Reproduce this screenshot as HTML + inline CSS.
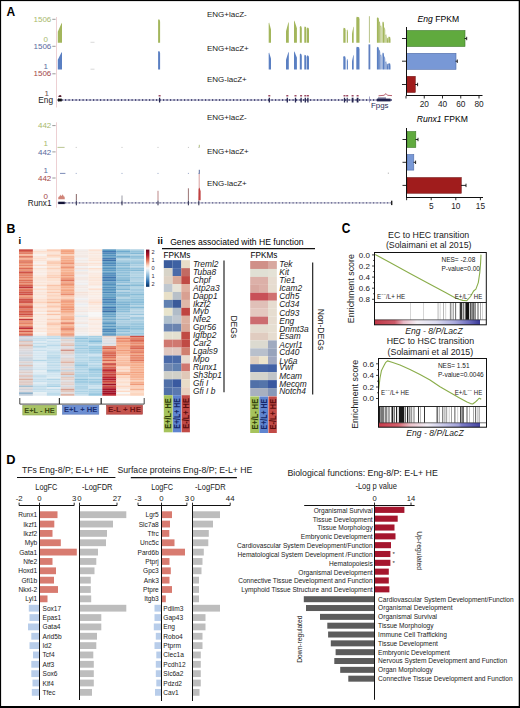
<!DOCTYPE html>
<html><head><meta charset="utf-8"><title>Figure</title>
<style>html,body{margin:0;padding:0;background:#fff;}body{width:520px;height:708px;overflow:hidden;}svg{display:block;}</style>
</head><body><svg width="520" height="708" viewBox="0 0 520 708" font-family='"Liberation Sans", sans-serif'>
<rect width="520" height="708" fill="#fff"/>
<text x="6.40" y="15.80" font-size="12" fill="#000" font-weight="bold">A</text>
<line x1="56.50" y1="17.00" x2="56.50" y2="107.50" stroke="#e8c4c8" stroke-width="0.8"/>
<line x1="56.50" y1="122.30" x2="56.50" y2="207.70" stroke="#e8c4c8" stroke-width="0.8"/>
<text x="51.30" y="21.60" font-size="8.0" fill="#a9b96d" text-anchor="end">1506</text>
<line x1="52.30" y1="19.30" x2="55.60" y2="19.30" stroke="#555" stroke-width="0.6"/>
<text x="48.00" y="41.60" font-size="8.0" fill="#a9b96d" text-anchor="end">0</text>
<text x="51.30" y="48.60" font-size="8.0" fill="#5a6a9e" text-anchor="end">1506</text>
<line x1="52.30" y1="46.30" x2="55.60" y2="46.30" stroke="#555" stroke-width="0.6"/>
<text x="48.00" y="68.60" font-size="8.0" fill="#5a6a9e" text-anchor="end">1</text>
<text x="51.30" y="76.00" font-size="8.0" fill="#a44848" text-anchor="end">1506</text>
<line x1="52.30" y1="73.80" x2="55.60" y2="73.80" stroke="#555" stroke-width="0.6"/>
<text x="48.90" y="95.90" font-size="8.0" fill="#6a4a4a" text-anchor="end">1</text>
<text x="53.10" y="103.20" font-size="8.3" fill="#222" text-anchor="end">Eng</text>
<text x="51.30" y="128.00" font-size="8.0" fill="#a9b96d" text-anchor="end">442</text>
<line x1="52.30" y1="125.60" x2="55.60" y2="125.60" stroke="#555" stroke-width="0.6"/>
<text x="48.00" y="146.20" font-size="8.0" fill="#a9b96d" text-anchor="end">1</text>
<text x="51.30" y="154.60" font-size="8.0" fill="#5a6a9e" text-anchor="end">442</text>
<line x1="52.30" y1="151.90" x2="55.60" y2="151.90" stroke="#555" stroke-width="0.6"/>
<text x="48.00" y="173.00" font-size="8.0" fill="#5a6a9e" text-anchor="end">1</text>
<text x="51.30" y="180.60" font-size="8.0" fill="#a44848" text-anchor="end">442</text>
<line x1="52.30" y1="178.00" x2="55.60" y2="178.00" stroke="#555" stroke-width="0.6"/>
<text x="48.00" y="199.20" font-size="8.0" fill="#a44848" text-anchor="end">0</text>
<text x="51.50" y="205.80" font-size="8.2" fill="#222" text-anchor="end">Runx1</text>
<text x="207.00" y="17.00" font-size="8.0" fill="#1a1a1a">ENG+lacZ-</text>
<text x="207.00" y="51.40" font-size="8.0" fill="#1a1a1a">ENG+lacZ+</text>
<text x="207.00" y="82.40" font-size="8.0" fill="#1a1a1a">ENG-lacZ+</text>
<text x="207.00" y="120.20" font-size="8.0" fill="#1a1a1a">ENG+lacZ-</text>
<text x="207.00" y="154.30" font-size="8.0" fill="#1a1a1a">ENG+lacZ+</text>
<text x="207.00" y="185.60" font-size="8.0" fill="#1a1a1a">ENG-lacZ+</text>
<polygon points="57.80,42.70 57.80,31.70 61.70,22.70 62.00,23.70 62.00,42.70" fill="#a3b65c"/>
<polygon points="158.10,42.70 158.10,20.40 158.50,19.20 159.70,19.80 160.10,21.70 160.10,42.70" fill="#a3b65c"/>
<polygon points="268.70,42.70 268.70,23.50 269.10,22.50 271.00,29.57 271.00,42.70" fill="#a3b65c"/>
<polygon points="286.00,42.70 286.00,31.26 288.50,21.90 288.80,22.90 288.80,42.70" fill="#a3b65c"/>
<polygon points="294.00,42.70 294.00,21.50 294.40,20.50 296.90,28.27 296.90,42.70" fill="#a3b65c"/>
<polygon points="299.80,42.70 299.80,27.20 300.20,26.00 301.40,26.60 301.80,28.50 301.80,42.70" fill="#a3b65c"/>
<polygon points="304.30,42.70 304.30,27.70 304.70,26.50 306.00,27.10 306.40,29.00 306.40,42.70" fill="#a3b65c"/>
<polygon points="306.90,42.70 306.90,28.70 307.30,27.50 308.60,28.10 309.00,30.00 309.00,42.70" fill="#a3b65c"/>
<polygon points="343.30,42.70 343.30,28.90 343.70,27.70 345.20,28.30 345.60,30.20 345.60,42.70" fill="#a3b65c"/>
<polygon points="346.80,42.70 346.80,30.60 347.20,29.40 347.50,30.00 347.90,31.90 347.90,42.70" fill="#a3b65c"/>
<polygon points="352.00,42.70 352.00,33.79 353.40,26.50 353.70,27.50 353.70,42.70" fill="#a3b65c"/>
<polygon points="356.30,42.70 356.30,17.90 356.70,16.70 359.10,17.30 359.50,19.20 359.50,42.70" fill="#a3b65c"/>
<polygon points="57.80,69.40 57.80,59.83 61.70,52.00 62.00,53.00 62.00,69.40" fill="#5a7fc2"/>
<polygon points="158.10,69.40 158.10,52.20 158.50,51.00 159.70,51.60 160.10,53.50 160.10,69.40" fill="#5a7fc2"/>
<polygon points="268.70,69.40 268.70,53.50 269.10,52.50 271.00,58.41 271.00,69.40" fill="#5a7fc2"/>
<polygon points="286.00,69.40 286.00,59.67 288.50,51.70 288.80,52.70 288.80,69.40" fill="#5a7fc2"/>
<polygon points="294.00,69.40 294.00,52.30 294.40,51.30 296.90,57.63 296.90,69.40" fill="#5a7fc2"/>
<polygon points="299.80,69.40 299.80,54.80 300.20,53.60 301.40,54.20 301.80,56.10 301.80,69.40" fill="#5a7fc2"/>
<polygon points="304.30,69.40 304.30,56.00 304.70,54.80 306.00,55.40 306.40,57.30 306.40,69.40" fill="#5a7fc2"/>
<polygon points="306.90,69.40 306.90,56.50 307.30,55.30 308.60,55.90 309.00,57.80 309.00,69.40" fill="#5a7fc2"/>
<polygon points="343.30,69.40 343.30,57.20 343.70,56.00 345.20,56.60 345.60,58.50 345.60,69.40" fill="#5a7fc2"/>
<polygon points="346.80,69.40 346.80,60.00 347.20,58.80 347.50,59.40 347.90,61.30 347.90,69.40" fill="#5a7fc2"/>
<polygon points="352.00,69.40 352.00,61.37 353.40,54.80 353.70,55.80 353.70,69.40" fill="#5a7fc2"/>
<polygon points="356.30,69.40 356.30,47.90 356.70,46.70 359.10,47.30 359.50,49.20 359.50,69.40" fill="#5a7fc2"/>
<rect x="368.90" y="16.20" width="1.00" height="26.50" fill="#b9c48a"/>
<rect x="368.50" y="44.40" width="1.80" height="25.00" fill="#6080c0"/>
<polygon points="376.90,42.70 376.90,18.50 377.40,17.30 378.60,18.10 378.90,20.30 378.90,42.70" fill="#a3b65c"/>
<polygon points="379.20,42.70 379.20,22.20 379.70,21.00 379.90,21.80 380.20,24.00 380.20,42.70" fill="#a3b65c"/>
<polygon points="380.50,42.70 380.50,26.20 381.00,25.00 381.20,25.80 381.50,28.00 381.50,42.70" fill="#a3b65c"/>
<polygon points="382.40,42.70 382.40,22.70 382.90,21.50 383.70,22.30 384.00,24.50 384.00,42.70" fill="#a3b65c"/>
<polygon points="384.30,42.70 384.30,28.20 384.80,27.00 384.90,27.80 385.20,30.00 385.20,42.70" fill="#a3b65c"/>
<polygon points="385.50,42.70 385.50,35.20 386.00,34.00 386.30,34.80 386.60,37.00 386.60,42.70" fill="#a3b65c"/>
<polygon points="386.90,42.70 386.90,38.70 387.40,37.50 387.70,38.30 388.00,40.50 388.00,42.70" fill="#a3b65c"/>
<polygon points="388.30,42.70 388.30,37.70 388.80,36.50 390.20,37.30 390.50,39.50 390.50,42.70" fill="#a3b65c"/>
<polygon points="376.90,69.40 376.90,47.90 377.40,46.70 378.60,47.50 378.90,49.70 378.90,69.40" fill="#5a7fc2"/>
<polygon points="379.20,69.40 379.20,50.70 379.70,49.50 379.90,50.30 380.20,52.50 380.20,69.40" fill="#5a7fc2"/>
<polygon points="380.50,69.40 380.50,55.20 381.00,54.00 381.20,54.80 381.50,57.00 381.50,69.40" fill="#5a7fc2"/>
<polygon points="382.40,69.40 382.40,53.70 382.90,52.50 383.70,53.30 384.00,55.50 384.00,69.40" fill="#5a7fc2"/>
<polygon points="384.30,69.40 384.30,57.20 384.80,56.00 384.90,56.80 385.20,59.00 385.20,69.40" fill="#5a7fc2"/>
<polygon points="385.50,69.40 385.50,62.20 386.00,61.00 386.30,61.80 386.60,64.00 386.60,69.40" fill="#5a7fc2"/>
<polygon points="386.90,69.40 386.90,64.70 387.40,63.50 387.70,64.30 388.00,66.50 388.00,69.40" fill="#5a7fc2"/>
<polygon points="388.30,69.40 388.30,64.20 388.80,63.00 390.20,63.80 390.50,66.00 390.50,69.40" fill="#5a7fc2"/>
<line x1="90.50" y1="42.30" x2="94.50" y2="42.30" stroke="#c8c8c8" stroke-width="0.7"/>
<line x1="90.50" y1="69.20" x2="94.50" y2="69.20" stroke="#c8c8c8" stroke-width="0.7"/>
<line x1="57.50" y1="100.00" x2="392.00" y2="100.00" stroke="#6a6a9a" stroke-width="0.8"/>
<line x1="58.00" y1="100.00" x2="392.00" y2="100.00" stroke="#2e2e62" stroke-width="1.4" stroke-dasharray="1.2,2.3"/>
<rect x="58.40" y="98.60" width="3.40" height="2.80" fill="#111"/>
<polygon points="57.30,100.00 58.80,98.00 58.80,102.00" fill="#111"/>
<rect x="158.95" y="97.70" width="1.30" height="4.80" fill="#25254f"/>
<rect x="158.60" y="95.00" width="2.00" height="1.50" fill="#9a4a62"/>
<rect x="268.65" y="97.70" width="1.30" height="4.80" fill="#25254f"/>
<rect x="268.30" y="95.00" width="2.00" height="1.50" fill="#9a4a62"/>
<rect x="286.65" y="97.70" width="1.30" height="4.80" fill="#25254f"/>
<rect x="286.30" y="95.00" width="2.00" height="1.50" fill="#9a4a62"/>
<rect x="294.85" y="97.70" width="1.30" height="4.80" fill="#25254f"/>
<rect x="294.50" y="95.00" width="2.00" height="1.50" fill="#9a4a62"/>
<rect x="300.45" y="97.70" width="1.30" height="4.80" fill="#25254f"/>
<rect x="300.10" y="95.00" width="2.00" height="1.50" fill="#9a4a62"/>
<rect x="304.65" y="97.70" width="1.30" height="4.80" fill="#25254f"/>
<rect x="304.30" y="95.00" width="2.00" height="1.50" fill="#9a4a62"/>
<rect x="307.25" y="97.70" width="1.30" height="4.80" fill="#25254f"/>
<rect x="306.90" y="95.00" width="2.00" height="1.50" fill="#9a4a62"/>
<rect x="343.85" y="97.70" width="1.30" height="4.80" fill="#25254f"/>
<rect x="343.50" y="95.00" width="2.00" height="1.50" fill="#9a4a62"/>
<rect x="346.65" y="97.70" width="1.10" height="4.80" fill="#25254f"/>
<rect x="346.20" y="95.00" width="2.00" height="1.50" fill="#9a4a62"/>
<rect x="351.70" y="97.70" width="1.80" height="4.80" fill="#25254f"/>
<rect x="351.60" y="95.00" width="2.00" height="1.50" fill="#9a4a62"/>
<rect x="356.70" y="97.70" width="1.80" height="4.80" fill="#25254f"/>
<rect x="356.60" y="95.00" width="2.00" height="1.50" fill="#9a4a62"/>
<line x1="369.50" y1="96.50" x2="369.50" y2="102.50" stroke="#8080b0" stroke-width="0.7"/>
<rect x="376.90" y="98.60" width="13.70" height="2.80" fill="#23234f"/>
<rect x="378.00" y="97.60" width="8.00" height="0.90" fill="#2a2a5a"/>
<path d="M378.5 95.8 L384 95.3 L386 93.6 L387.5 95.3 L392 95.6" fill="none" stroke="#b05060" stroke-width="0.9"/>
<polygon points="58.20,97.00 58.90,95.40 60.40,94.90 61.40,95.80 61.40,97.00" fill="#5a2030"/>
<text x="371.00" y="107.80" font-size="7.9" fill="#2a2a55">Fpgs</text>
<line x1="57.50" y1="202.90" x2="391.80" y2="202.90" stroke="#8a8aa8" stroke-width="0.7"/>
<line x1="65.00" y1="202.90" x2="391.80" y2="202.90" stroke="#5a5a88" stroke-width="1.2" stroke-dasharray="1.2,2.3"/>
<rect x="58.20" y="201.70" width="6.60" height="2.40" fill="#141438"/>
<rect x="391.00" y="200.70" width="1.40" height="4.40" fill="#222"/>
<rect x="75.80" y="200.50" width="1.10" height="4.80" fill="#3a3a5a"/>
<rect x="121.45" y="200.50" width="1.10" height="4.80" fill="#3a3a5a"/>
<rect x="157.45" y="200.50" width="1.10" height="4.80" fill="#3a3a5a"/>
<rect x="187.85" y="200.50" width="1.10" height="4.80" fill="#3a3a5a"/>
<rect x="198.25" y="200.50" width="1.10" height="4.80" fill="#3a3a5a"/>
<polygon points="58.20,199.20 58.40,197.00 59.60,196.20 60.30,194.40 61.00,196.00 62.00,195.50 62.80,194.30 63.60,196.20 64.60,196.80 64.80,199.20" fill="#d08478"/>
<line x1="76.35" y1="194.00" x2="76.35" y2="200.30" stroke="#7a5555" stroke-width="0.9"/>
<line x1="122.00" y1="195.50" x2="122.00" y2="200.30" stroke="#707080" stroke-width="0.7"/>
<line x1="158.00" y1="190.80" x2="158.00" y2="200.30" stroke="#a05858" stroke-width="0.7"/>
<line x1="188.40" y1="188.30" x2="188.40" y2="200.30" stroke="#805050" stroke-width="0.8"/>
<line x1="199.20" y1="174.00" x2="199.20" y2="200.30" stroke="#c06060" stroke-width="0.6"/>
<line x1="199.30" y1="169.80" x2="199.30" y2="174.00" stroke="#4a5a90" stroke-width="0.9"/>
<polygon points="198.40,200.30 198.60,189.00 199.50,187.50 200.60,191.00 200.60,200.30" fill="#c04040"/>
<line x1="57.50" y1="147.40" x2="64.60" y2="147.40" stroke="#aab878" stroke-width="0.8"/>
<line x1="199.30" y1="144.80" x2="199.30" y2="147.60" stroke="#a8b870" stroke-width="0.9"/>
<line x1="60.00" y1="173.40" x2="65.40" y2="173.40" stroke="#5a6fa5" stroke-width="0.8"/>
<rect x="75.70" y="146.90" width="1.00" height="1.00" fill="#c0c0c0"/>
<rect x="75.70" y="172.90" width="1.00" height="1.00" fill="#9aa8c8"/>
<rect x="121.50" y="146.90" width="1.00" height="1.00" fill="#c0c0c0"/>
<rect x="121.50" y="172.90" width="1.00" height="1.00" fill="#9aa8c8"/>
<rect x="157.50" y="146.90" width="1.00" height="1.00" fill="#c0c0c0"/>
<rect x="157.50" y="172.90" width="1.00" height="1.00" fill="#9aa8c8"/>
<rect x="187.90" y="146.90" width="1.00" height="1.00" fill="#c0c0c0"/>
<rect x="187.90" y="172.90" width="1.00" height="1.00" fill="#9aa8c8"/>
<rect x="198.30" y="146.90" width="1.00" height="1.00" fill="#c0c0c0"/>
<rect x="198.30" y="172.90" width="1.00" height="1.00" fill="#9aa8c8"/>
<rect x="387.80" y="172.60" width="1.20" height="1.20" fill="#c0c0c0"/>
<text x="417.50" y="21.90" font-size="8.6" fill="#000"><tspan font-style="italic">Eng</tspan> FPKM</text>
<rect x="406.50" y="30.50" width="58.50" height="16.00" fill="#60aa3e" stroke="#3f7a2a" stroke-width="0.6"/>
<rect x="406.50" y="53.30" width="49.50" height="16.00" fill="#7898d6" stroke="#4f6ca8" stroke-width="0.6"/>
<rect x="406.50" y="76.30" width="8.80" height="16.20" fill="#a01c1c" stroke="#6a0e0e" stroke-width="0.5"/>
<line x1="464.50" y1="38.50" x2="466.70" y2="38.50" stroke="#111" stroke-width="0.9"/>
<line x1="466.70" y1="36.80" x2="466.70" y2="40.20" stroke="#111" stroke-width="0.9"/>
<line x1="455.50" y1="61.20" x2="457.30" y2="61.20" stroke="#111" stroke-width="0.9"/>
<line x1="457.30" y1="59.50" x2="457.30" y2="62.90" stroke="#111" stroke-width="0.9"/>
<line x1="415.00" y1="84.50" x2="417.60" y2="84.50" stroke="#111" stroke-width="0.9"/>
<line x1="417.60" y1="82.80" x2="417.60" y2="86.20" stroke="#111" stroke-width="0.9"/>
<line x1="406.50" y1="27.00" x2="406.50" y2="96.00" stroke="#111" stroke-width="1.0"/>
<line x1="406.00" y1="95.50" x2="482.50" y2="95.50" stroke="#111" stroke-width="1.0"/>
<line x1="402.00" y1="38.50" x2="406.30" y2="38.50" stroke="#111" stroke-width="0.9"/>
<line x1="402.00" y1="61.20" x2="406.30" y2="61.20" stroke="#111" stroke-width="0.9"/>
<line x1="402.00" y1="84.50" x2="406.30" y2="84.50" stroke="#111" stroke-width="0.9"/>
<line x1="406.00" y1="95.80" x2="406.00" y2="98.50" stroke="#111" stroke-width="0.9"/>
<line x1="424.25" y1="95.80" x2="424.25" y2="98.50" stroke="#111" stroke-width="0.9"/>
<text x="424.25" y="107.20" font-size="8.3" fill="#222" text-anchor="middle">20</text>
<line x1="442.50" y1="95.80" x2="442.50" y2="98.50" stroke="#111" stroke-width="0.9"/>
<text x="442.50" y="107.20" font-size="8.3" fill="#222" text-anchor="middle">40</text>
<line x1="460.75" y1="95.80" x2="460.75" y2="98.50" stroke="#111" stroke-width="0.9"/>
<text x="460.75" y="107.20" font-size="8.3" fill="#222" text-anchor="middle">60</text>
<line x1="479.00" y1="95.80" x2="479.00" y2="98.50" stroke="#111" stroke-width="0.9"/>
<text x="479.00" y="107.20" font-size="8.3" fill="#222" text-anchor="middle">80</text>
<text x="416.80" y="122.40" font-size="8.6" fill="#000"><tspan font-style="italic">Runx1</tspan> FPKM</text>
<rect x="407.00" y="131.50" width="8.80" height="16.00" fill="#60aa3e" stroke="#3f7a2a" stroke-width="0.6"/>
<rect x="407.00" y="154.50" width="6.80" height="15.60" fill="#7898d6" stroke="#4f6ca8" stroke-width="0.6"/>
<rect x="407.00" y="177.50" width="54.30" height="15.80" fill="#a01c1c" stroke="#6a0e0e" stroke-width="0.5"/>
<line x1="415.50" y1="139.50" x2="418.00" y2="139.50" stroke="#111" stroke-width="0.9"/>
<line x1="418.00" y1="137.80" x2="418.00" y2="141.20" stroke="#111" stroke-width="0.9"/>
<line x1="413.50" y1="162.30" x2="415.60" y2="162.30" stroke="#111" stroke-width="0.9"/>
<line x1="415.60" y1="160.60" x2="415.60" y2="164.00" stroke="#111" stroke-width="0.9"/>
<line x1="461.00" y1="185.40" x2="466.00" y2="185.40" stroke="#111" stroke-width="0.9"/>
<line x1="466.00" y1="183.70" x2="466.00" y2="187.10" stroke="#111" stroke-width="0.9"/>
<line x1="406.50" y1="128.00" x2="406.50" y2="198.00" stroke="#111" stroke-width="1.0"/>
<line x1="406.00" y1="197.50" x2="483.00" y2="197.50" stroke="#111" stroke-width="1.0"/>
<line x1="402.50" y1="139.50" x2="406.80" y2="139.50" stroke="#111" stroke-width="0.9"/>
<line x1="402.50" y1="162.30" x2="406.80" y2="162.30" stroke="#111" stroke-width="0.9"/>
<line x1="402.50" y1="185.40" x2="406.80" y2="185.40" stroke="#111" stroke-width="0.9"/>
<line x1="406.60" y1="197.60" x2="406.60" y2="200.20" stroke="#111" stroke-width="0.9"/>
<line x1="431.20" y1="197.60" x2="431.20" y2="200.20" stroke="#111" stroke-width="0.9"/>
<text x="431.20" y="209.20" font-size="8.3" fill="#222" text-anchor="middle">5</text>
<line x1="455.80" y1="197.60" x2="455.80" y2="200.20" stroke="#111" stroke-width="0.9"/>
<text x="455.80" y="209.20" font-size="8.3" fill="#222" text-anchor="middle">10</text>
<line x1="480.40" y1="197.60" x2="480.40" y2="200.20" stroke="#111" stroke-width="0.9"/>
<text x="480.40" y="209.20" font-size="8.3" fill="#222" text-anchor="middle">15</text>
<text x="6.40" y="232.80" font-size="12.4" fill="#000" font-weight="bold">B</text>
<text x="18.40" y="244.00" font-size="9.5" fill="#000" font-weight="bold">i</text>
<rect x="19.00" y="249.30" width="13.94" height="1.75" fill="#cc4d44"/>
<rect x="32.89" y="249.30" width="13.94" height="1.75" fill="#f9ece4"/>
<rect x="46.78" y="249.30" width="13.94" height="1.75" fill="#fbcdb6"/>
<rect x="60.67" y="249.30" width="13.94" height="1.75" fill="#f5a987"/>
<rect x="74.56" y="249.30" width="13.94" height="1.75" fill="#f2ece9"/>
<rect x="88.44" y="249.30" width="13.94" height="1.75" fill="#fce2d3"/>
<rect x="102.33" y="249.30" width="13.94" height="1.75" fill="#5a99c2"/>
<rect x="116.22" y="249.30" width="13.94" height="1.75" fill="#94c3da"/>
<rect x="130.11" y="249.30" width="13.94" height="1.75" fill="#abcfe1"/>
<rect x="19.00" y="251.00" width="13.94" height="1.75" fill="#da6954"/>
<rect x="32.89" y="251.00" width="13.94" height="1.75" fill="#fcdfce"/>
<rect x="46.78" y="251.00" width="13.94" height="1.75" fill="#fddcca"/>
<rect x="60.67" y="251.00" width="13.94" height="1.75" fill="#f2a17f"/>
<rect x="74.56" y="251.00" width="13.94" height="1.75" fill="#f3e9e4"/>
<rect x="88.44" y="251.00" width="13.94" height="1.75" fill="#f9ece3"/>
<rect x="102.33" y="251.00" width="13.94" height="1.75" fill="#4279b2"/>
<rect x="116.22" y="251.00" width="13.94" height="1.75" fill="#6eaace"/>
<rect x="130.11" y="251.00" width="13.94" height="1.75" fill="#93c2db"/>
<rect x="19.00" y="252.69" width="13.94" height="1.75" fill="#e48066"/>
<rect x="32.89" y="252.69" width="13.94" height="1.75" fill="#fae8dd"/>
<rect x="46.78" y="252.69" width="13.94" height="1.75" fill="#fbe5d8"/>
<rect x="60.67" y="252.69" width="13.94" height="1.75" fill="#f4a886"/>
<rect x="74.56" y="252.69" width="13.94" height="1.75" fill="#f3ebe7"/>
<rect x="88.44" y="252.69" width="13.94" height="1.75" fill="#fae8dd"/>
<rect x="102.33" y="252.69" width="13.94" height="1.75" fill="#4f8bbb"/>
<rect x="116.22" y="252.69" width="13.94" height="1.75" fill="#92c1da"/>
<rect x="130.11" y="252.69" width="13.94" height="1.75" fill="#83b8d5"/>
<rect x="19.00" y="254.39" width="13.94" height="1.75" fill="#f7b89a"/>
<rect x="32.89" y="254.39" width="13.94" height="1.75" fill="#f8f2ee"/>
<rect x="46.78" y="254.39" width="13.94" height="1.75" fill="#fbd1ba"/>
<rect x="60.67" y="254.39" width="13.94" height="1.75" fill="#fbd2bb"/>
<rect x="74.56" y="254.39" width="13.94" height="1.75" fill="#f3e9e4"/>
<rect x="88.44" y="254.39" width="13.94" height="1.75" fill="#f9ebe3"/>
<rect x="102.33" y="254.39" width="13.94" height="1.75" fill="#5795c0"/>
<rect x="116.22" y="254.39" width="13.94" height="1.75" fill="#a1c9de"/>
<rect x="130.11" y="254.39" width="13.94" height="1.75" fill="#add0e2"/>
<rect x="19.00" y="256.08" width="13.94" height="1.75" fill="#dd7059"/>
<rect x="32.89" y="256.08" width="13.94" height="1.75" fill="#fbe6da"/>
<rect x="46.78" y="256.08" width="13.94" height="1.75" fill="#fddac5"/>
<rect x="60.67" y="256.08" width="13.94" height="1.75" fill="#f6ae8e"/>
<rect x="74.56" y="256.08" width="13.94" height="1.75" fill="#f3e7e1"/>
<rect x="88.44" y="256.08" width="13.94" height="1.75" fill="#faeae0"/>
<rect x="102.33" y="256.08" width="13.94" height="1.75" fill="#68a3c7"/>
<rect x="116.22" y="256.08" width="13.94" height="1.75" fill="#6aa8cc"/>
<rect x="130.11" y="256.08" width="13.94" height="1.75" fill="#85bad6"/>
<rect x="19.00" y="257.78" width="13.94" height="1.75" fill="#f7b99c"/>
<rect x="32.89" y="257.78" width="13.94" height="1.75" fill="#fce1d1"/>
<rect x="46.78" y="257.78" width="13.94" height="1.75" fill="#f9efea"/>
<rect x="60.67" y="257.78" width="13.94" height="1.75" fill="#f6b293"/>
<rect x="74.56" y="257.78" width="13.94" height="1.75" fill="#f0f1f2"/>
<rect x="88.44" y="257.78" width="13.94" height="1.75" fill="#fae8dc"/>
<rect x="102.33" y="257.78" width="13.94" height="1.75" fill="#457db4"/>
<rect x="116.22" y="257.78" width="13.94" height="1.75" fill="#aed0e2"/>
<rect x="130.11" y="257.78" width="13.94" height="1.75" fill="#9fcadf"/>
<rect x="19.00" y="259.48" width="13.94" height="1.75" fill="#e98b6e"/>
<rect x="32.89" y="259.48" width="13.94" height="1.75" fill="#fbe4d7"/>
<rect x="46.78" y="259.48" width="13.94" height="1.75" fill="#fbe3d5"/>
<rect x="60.67" y="259.48" width="13.94" height="1.75" fill="#f4a886"/>
<rect x="74.56" y="259.48" width="13.94" height="1.75" fill="#f3eae5"/>
<rect x="88.44" y="259.48" width="13.94" height="1.75" fill="#fbe3d5"/>
<rect x="102.33" y="259.48" width="13.94" height="1.75" fill="#3d71a9"/>
<rect x="116.22" y="259.48" width="13.94" height="1.75" fill="#add0e2"/>
<rect x="130.11" y="259.48" width="13.94" height="1.75" fill="#afd1e3"/>
<rect x="19.00" y="261.17" width="13.94" height="1.75" fill="#dd715a"/>
<rect x="32.89" y="261.17" width="13.94" height="1.75" fill="#f9ece4"/>
<rect x="46.78" y="261.17" width="13.94" height="1.75" fill="#facab1"/>
<rect x="60.67" y="261.17" width="13.94" height="1.75" fill="#f4a582"/>
<rect x="74.56" y="261.17" width="13.94" height="1.75" fill="#f2eeec"/>
<rect x="88.44" y="261.17" width="13.94" height="1.75" fill="#f9eee7"/>
<rect x="102.33" y="261.17" width="13.94" height="1.75" fill="#5897c1"/>
<rect x="116.22" y="261.17" width="13.94" height="1.75" fill="#98c5dc"/>
<rect x="130.11" y="261.17" width="13.94" height="1.75" fill="#99c6dd"/>
<rect x="19.00" y="262.87" width="13.94" height="1.75" fill="#ee9878"/>
<rect x="32.89" y="262.87" width="13.94" height="1.75" fill="#f8f2ef"/>
<rect x="46.78" y="262.87" width="13.94" height="1.75" fill="#facbb2"/>
<rect x="60.67" y="262.87" width="13.94" height="1.75" fill="#ec9273"/>
<rect x="74.56" y="262.87" width="13.94" height="1.75" fill="#f5e1d6"/>
<rect x="88.44" y="262.87" width="13.94" height="1.75" fill="#fbe2d4"/>
<rect x="102.33" y="262.87" width="13.94" height="1.75" fill="#4e89ba"/>
<rect x="116.22" y="262.87" width="13.94" height="1.75" fill="#84b9d5"/>
<rect x="130.11" y="262.87" width="13.94" height="1.75" fill="#9bc7de"/>
<rect x="19.00" y="264.56" width="13.94" height="1.75" fill="#e68569"/>
<rect x="32.89" y="264.56" width="13.94" height="1.75" fill="#fcdecd"/>
<rect x="46.78" y="264.56" width="13.94" height="1.75" fill="#fdd8c3"/>
<rect x="60.67" y="264.56" width="13.94" height="1.75" fill="#f8bb9e"/>
<rect x="74.56" y="264.56" width="13.94" height="1.75" fill="#f5e1d7"/>
<rect x="88.44" y="264.56" width="13.94" height="1.75" fill="#fae9df"/>
<rect x="102.33" y="264.56" width="13.94" height="1.75" fill="#5390be"/>
<rect x="116.22" y="264.56" width="13.94" height="1.75" fill="#87bad6"/>
<rect x="130.11" y="264.56" width="13.94" height="1.75" fill="#aacee1"/>
<rect x="19.00" y="266.26" width="13.94" height="1.75" fill="#f19e7d"/>
<rect x="32.89" y="266.26" width="13.94" height="1.75" fill="#f8f2ef"/>
<rect x="46.78" y="266.26" width="13.94" height="1.75" fill="#fbe2d3"/>
<rect x="60.67" y="266.26" width="13.94" height="1.75" fill="#ed9475"/>
<rect x="74.56" y="266.26" width="13.94" height="1.75" fill="#f1f0f1"/>
<rect x="88.44" y="266.26" width="13.94" height="1.75" fill="#f7f5f3"/>
<rect x="102.33" y="266.26" width="13.94" height="1.75" fill="#70a8ca"/>
<rect x="116.22" y="266.26" width="13.94" height="1.75" fill="#9ec8de"/>
<rect x="130.11" y="266.26" width="13.94" height="1.75" fill="#b5d4e5"/>
<rect x="19.00" y="267.96" width="13.94" height="1.75" fill="#db6d57"/>
<rect x="32.89" y="267.96" width="13.94" height="1.75" fill="#fbe3d4"/>
<rect x="46.78" y="267.96" width="13.94" height="1.75" fill="#fbd1ba"/>
<rect x="60.67" y="267.96" width="13.94" height="1.75" fill="#f6af8f"/>
<rect x="74.56" y="267.96" width="13.94" height="1.75" fill="#f4e2da"/>
<rect x="88.44" y="267.96" width="13.94" height="1.75" fill="#fcdfce"/>
<rect x="102.33" y="267.96" width="13.94" height="1.75" fill="#5693bf"/>
<rect x="116.22" y="267.96" width="13.94" height="1.75" fill="#84b9d5"/>
<rect x="130.11" y="267.96" width="13.94" height="1.75" fill="#92c1db"/>
<rect x="19.00" y="269.65" width="13.94" height="1.75" fill="#ed9676"/>
<rect x="32.89" y="269.65" width="13.94" height="1.75" fill="#f9ede6"/>
<rect x="46.78" y="269.65" width="13.94" height="1.75" fill="#fbe4d7"/>
<rect x="60.67" y="269.65" width="13.94" height="1.75" fill="#f6b495"/>
<rect x="74.56" y="269.65" width="13.94" height="1.75" fill="#eaedf1"/>
<rect x="88.44" y="269.65" width="13.94" height="1.75" fill="#f9ede5"/>
<rect x="102.33" y="269.65" width="13.94" height="1.75" fill="#5e9cc4"/>
<rect x="116.22" y="269.65" width="13.94" height="1.75" fill="#8bbdd8"/>
<rect x="130.11" y="269.65" width="13.94" height="1.75" fill="#85bad6"/>
<rect x="19.00" y="271.35" width="13.94" height="1.75" fill="#cf5347"/>
<rect x="32.89" y="271.35" width="13.94" height="1.75" fill="#f9ebe3"/>
<rect x="46.78" y="271.35" width="13.94" height="1.75" fill="#fcdecd"/>
<rect x="60.67" y="271.35" width="13.94" height="1.75" fill="#f6b08f"/>
<rect x="74.56" y="271.35" width="13.94" height="1.75" fill="#f3e8e2"/>
<rect x="88.44" y="271.35" width="13.94" height="1.75" fill="#f9efe9"/>
<rect x="102.33" y="271.35" width="13.94" height="1.75" fill="#70a8ca"/>
<rect x="116.22" y="271.35" width="13.94" height="1.75" fill="#91c0da"/>
<rect x="130.11" y="271.35" width="13.94" height="1.75" fill="#aed1e3"/>
<rect x="19.00" y="273.05" width="13.94" height="1.75" fill="#e27b62"/>
<rect x="32.89" y="273.05" width="13.94" height="1.75" fill="#f9efea"/>
<rect x="46.78" y="273.05" width="13.94" height="1.75" fill="#fcdfcf"/>
<rect x="60.67" y="273.05" width="13.94" height="1.75" fill="#f5aa88"/>
<rect x="74.56" y="273.05" width="13.94" height="1.75" fill="#f3e7e2"/>
<rect x="88.44" y="273.05" width="13.94" height="1.75" fill="#fae9e0"/>
<rect x="102.33" y="273.05" width="13.94" height="1.75" fill="#508cbc"/>
<rect x="116.22" y="273.05" width="13.94" height="1.75" fill="#9cc7dd"/>
<rect x="130.11" y="273.05" width="13.94" height="1.75" fill="#aed1e3"/>
<rect x="19.00" y="274.74" width="13.94" height="1.75" fill="#e68468"/>
<rect x="32.89" y="274.74" width="13.94" height="1.75" fill="#faeae1"/>
<rect x="46.78" y="274.74" width="13.94" height="1.75" fill="#fbd2bb"/>
<rect x="60.67" y="274.74" width="13.94" height="1.75" fill="#ef9a7a"/>
<rect x="74.56" y="274.74" width="13.94" height="1.75" fill="#f1f0f1"/>
<rect x="88.44" y="274.74" width="13.94" height="1.75" fill="#faeae0"/>
<rect x="102.33" y="274.74" width="13.94" height="1.75" fill="#5390be"/>
<rect x="116.22" y="274.74" width="13.94" height="1.75" fill="#8bbdd8"/>
<rect x="130.11" y="274.74" width="13.94" height="1.75" fill="#b4d4e4"/>
<rect x="19.00" y="276.44" width="13.94" height="1.75" fill="#e58267"/>
<rect x="32.89" y="276.44" width="13.94" height="1.75" fill="#fbe3d5"/>
<rect x="46.78" y="276.44" width="13.94" height="1.75" fill="#fbcdb6"/>
<rect x="60.67" y="276.44" width="13.94" height="1.75" fill="#f5aa88"/>
<rect x="74.56" y="276.44" width="13.94" height="1.75" fill="#f3e8e3"/>
<rect x="88.44" y="276.44" width="13.94" height="1.75" fill="#fbe4d6"/>
<rect x="102.33" y="276.44" width="13.94" height="1.75" fill="#3f76b0"/>
<rect x="116.22" y="276.44" width="13.94" height="1.75" fill="#93c1da"/>
<rect x="130.11" y="276.44" width="13.94" height="1.75" fill="#a3cbe0"/>
<rect x="19.00" y="278.13" width="13.94" height="1.75" fill="#ee9878"/>
<rect x="32.89" y="278.13" width="13.94" height="1.75" fill="#fbe3d5"/>
<rect x="46.78" y="278.13" width="13.94" height="1.75" fill="#fcdfcd"/>
<rect x="60.67" y="278.13" width="13.94" height="1.75" fill="#ec9273"/>
<rect x="74.56" y="278.13" width="13.94" height="1.75" fill="#f4e6df"/>
<rect x="88.44" y="278.13" width="13.94" height="1.75" fill="#fae7dc"/>
<rect x="102.33" y="278.13" width="13.94" height="1.75" fill="#4d88ba"/>
<rect x="116.22" y="278.13" width="13.94" height="1.75" fill="#86bad6"/>
<rect x="130.11" y="278.13" width="13.94" height="1.75" fill="#a8cde1"/>
<rect x="19.00" y="279.83" width="13.94" height="1.75" fill="#dd7059"/>
<rect x="32.89" y="279.83" width="13.94" height="1.75" fill="#fae8de"/>
<rect x="46.78" y="279.83" width="13.94" height="1.75" fill="#fce1d1"/>
<rect x="60.67" y="279.83" width="13.94" height="1.75" fill="#e0775e"/>
<rect x="74.56" y="279.83" width="13.94" height="1.75" fill="#f2eeed"/>
<rect x="88.44" y="279.83" width="13.94" height="1.75" fill="#fbe5d8"/>
<rect x="102.33" y="279.83" width="13.94" height="1.75" fill="#447cb4"/>
<rect x="116.22" y="279.83" width="13.94" height="1.75" fill="#7ab2d2"/>
<rect x="130.11" y="279.83" width="13.94" height="1.75" fill="#b7d6e5"/>
<rect x="19.00" y="281.53" width="13.94" height="1.75" fill="#e0775f"/>
<rect x="32.89" y="281.53" width="13.94" height="1.75" fill="#fbe5d8"/>
<rect x="46.78" y="281.53" width="13.94" height="1.75" fill="#fbe5d8"/>
<rect x="60.67" y="281.53" width="13.94" height="1.75" fill="#f5ab8a"/>
<rect x="74.56" y="281.53" width="13.94" height="1.75" fill="#f2edec"/>
<rect x="88.44" y="281.53" width="13.94" height="1.75" fill="#fae9df"/>
<rect x="102.33" y="281.53" width="13.94" height="1.75" fill="#67a2c7"/>
<rect x="116.22" y="281.53" width="13.94" height="1.75" fill="#90c0da"/>
<rect x="130.11" y="281.53" width="13.94" height="1.75" fill="#a0cadf"/>
<rect x="19.00" y="283.22" width="13.94" height="1.75" fill="#e88a6d"/>
<rect x="32.89" y="283.22" width="13.94" height="1.75" fill="#faeae0"/>
<rect x="46.78" y="283.22" width="13.94" height="1.75" fill="#fce0d0"/>
<rect x="60.67" y="283.22" width="13.94" height="1.75" fill="#ea8f71"/>
<rect x="74.56" y="283.22" width="13.94" height="1.75" fill="#eff0f2"/>
<rect x="88.44" y="283.22" width="13.94" height="1.75" fill="#fbe5d9"/>
<rect x="102.33" y="283.22" width="13.94" height="1.75" fill="#508cbb"/>
<rect x="116.22" y="283.22" width="13.94" height="1.75" fill="#abcfe2"/>
<rect x="130.11" y="283.22" width="13.94" height="1.75" fill="#9dc8de"/>
<rect x="19.00" y="284.92" width="13.94" height="1.75" fill="#d55e4c"/>
<rect x="32.89" y="284.92" width="13.94" height="1.75" fill="#fcdecc"/>
<rect x="46.78" y="284.92" width="13.94" height="1.75" fill="#f9c3a8"/>
<rect x="60.67" y="284.92" width="13.94" height="1.75" fill="#f3a27f"/>
<rect x="74.56" y="284.92" width="13.94" height="1.75" fill="#f3eae5"/>
<rect x="88.44" y="284.92" width="13.94" height="1.75" fill="#f9ece5"/>
<rect x="102.33" y="284.92" width="13.94" height="1.75" fill="#66a2c7"/>
<rect x="116.22" y="284.92" width="13.94" height="1.75" fill="#78b0d1"/>
<rect x="130.11" y="284.92" width="13.94" height="1.75" fill="#87bbd6"/>
<rect x="19.00" y="286.61" width="13.94" height="1.75" fill="#c1373a"/>
<rect x="32.89" y="286.61" width="13.94" height="1.75" fill="#f8f1ed"/>
<rect x="46.78" y="286.61" width="13.94" height="1.75" fill="#fdd8c3"/>
<rect x="60.67" y="286.61" width="13.94" height="1.75" fill="#f5ad8c"/>
<rect x="74.56" y="286.61" width="13.94" height="1.75" fill="#f3e8e4"/>
<rect x="88.44" y="286.61" width="13.94" height="1.75" fill="#f8f3f0"/>
<rect x="102.33" y="286.61" width="13.94" height="1.75" fill="#5491be"/>
<rect x="116.22" y="286.61" width="13.94" height="1.75" fill="#a2cadf"/>
<rect x="130.11" y="286.61" width="13.94" height="1.75" fill="#b6d6e5"/>
<rect x="19.00" y="288.31" width="13.94" height="1.75" fill="#e37d63"/>
<rect x="32.89" y="288.31" width="13.94" height="1.75" fill="#fce0cf"/>
<rect x="46.78" y="288.31" width="13.94" height="1.75" fill="#fbcfb7"/>
<rect x="60.67" y="288.31" width="13.94" height="1.75" fill="#f6b091"/>
<rect x="74.56" y="288.31" width="13.94" height="1.75" fill="#f2ece9"/>
<rect x="88.44" y="288.31" width="13.94" height="1.75" fill="#fce0d0"/>
<rect x="102.33" y="288.31" width="13.94" height="1.75" fill="#5592be"/>
<rect x="116.22" y="288.31" width="13.94" height="1.75" fill="#82b7d4"/>
<rect x="130.11" y="288.31" width="13.94" height="1.75" fill="#a3cbe0"/>
<rect x="19.00" y="290.01" width="13.94" height="1.75" fill="#dd7059"/>
<rect x="32.89" y="290.01" width="13.94" height="1.75" fill="#f9ece4"/>
<rect x="46.78" y="290.01" width="13.94" height="1.75" fill="#fce0cf"/>
<rect x="60.67" y="290.01" width="13.94" height="1.75" fill="#f4a582"/>
<rect x="74.56" y="290.01" width="13.94" height="1.75" fill="#f2eeec"/>
<rect x="88.44" y="290.01" width="13.94" height="1.75" fill="#f9eee8"/>
<rect x="102.33" y="290.01" width="13.94" height="1.75" fill="#66a2c7"/>
<rect x="116.22" y="290.01" width="13.94" height="1.75" fill="#b9d6e5"/>
<rect x="130.11" y="290.01" width="13.94" height="1.75" fill="#a6cce1"/>
<rect x="19.00" y="291.70" width="13.94" height="1.75" fill="#d15749"/>
<rect x="32.89" y="291.70" width="13.94" height="1.75" fill="#fbe5d8"/>
<rect x="46.78" y="291.70" width="13.94" height="1.75" fill="#fac8af"/>
<rect x="60.67" y="291.70" width="13.94" height="1.75" fill="#f5ac8b"/>
<rect x="74.56" y="291.70" width="13.94" height="1.75" fill="#f5e1d7"/>
<rect x="88.44" y="291.70" width="13.94" height="1.75" fill="#faeae0"/>
<rect x="102.33" y="291.70" width="13.94" height="1.75" fill="#4e8aba"/>
<rect x="116.22" y="291.70" width="13.94" height="1.75" fill="#90c0da"/>
<rect x="130.11" y="291.70" width="13.94" height="1.75" fill="#a3cbe0"/>
<rect x="19.00" y="293.40" width="13.94" height="1.75" fill="#cd4f45"/>
<rect x="32.89" y="293.40" width="13.94" height="1.75" fill="#fbe4d7"/>
<rect x="46.78" y="293.40" width="13.94" height="1.75" fill="#fcddcb"/>
<rect x="60.67" y="293.40" width="13.94" height="1.75" fill="#ea8e70"/>
<rect x="74.56" y="293.40" width="13.94" height="1.75" fill="#f4e6df"/>
<rect x="88.44" y="293.40" width="13.94" height="1.75" fill="#faebe2"/>
<rect x="102.33" y="293.40" width="13.94" height="1.75" fill="#66a2c7"/>
<rect x="116.22" y="293.40" width="13.94" height="1.75" fill="#8fbfd9"/>
<rect x="130.11" y="293.40" width="13.94" height="1.75" fill="#88bcd7"/>
<rect x="19.00" y="295.09" width="13.94" height="1.75" fill="#ee9878"/>
<rect x="32.89" y="295.09" width="13.94" height="1.75" fill="#faeae1"/>
<rect x="46.78" y="295.09" width="13.94" height="1.75" fill="#fbd2bb"/>
<rect x="60.67" y="295.09" width="13.94" height="1.75" fill="#f8bea2"/>
<rect x="74.56" y="295.09" width="13.94" height="1.75" fill="#f3e9e4"/>
<rect x="88.44" y="295.09" width="13.94" height="1.75" fill="#f9efe9"/>
<rect x="102.33" y="295.09" width="13.94" height="1.75" fill="#65a1c6"/>
<rect x="116.22" y="295.09" width="13.94" height="1.75" fill="#85b9d5"/>
<rect x="130.11" y="295.09" width="13.94" height="1.75" fill="#9fcadf"/>
<rect x="19.00" y="296.79" width="13.94" height="1.75" fill="#eb9072"/>
<rect x="32.89" y="296.79" width="13.94" height="1.75" fill="#fae9df"/>
<rect x="46.78" y="296.79" width="13.94" height="1.75" fill="#fcdfcd"/>
<rect x="60.67" y="296.79" width="13.94" height="1.75" fill="#fcd4be"/>
<rect x="74.56" y="296.79" width="13.94" height="1.75" fill="#f2ecea"/>
<rect x="88.44" y="296.79" width="13.94" height="1.75" fill="#f9ede7"/>
<rect x="102.33" y="296.79" width="13.94" height="1.75" fill="#5a9ac2"/>
<rect x="116.22" y="296.79" width="13.94" height="1.75" fill="#b8d5e4"/>
<rect x="130.11" y="296.79" width="13.94" height="1.75" fill="#a0cadf"/>
<rect x="19.00" y="298.49" width="13.94" height="1.75" fill="#d05347"/>
<rect x="32.89" y="298.49" width="13.94" height="1.75" fill="#fce0d0"/>
<rect x="46.78" y="298.49" width="13.94" height="1.75" fill="#facbb3"/>
<rect x="60.67" y="298.49" width="13.94" height="1.75" fill="#f7ba9d"/>
<rect x="74.56" y="298.49" width="13.94" height="1.75" fill="#edeff1"/>
<rect x="88.44" y="298.49" width="13.94" height="1.75" fill="#fae9e0"/>
<rect x="102.33" y="298.49" width="13.94" height="1.75" fill="#4881b6"/>
<rect x="116.22" y="298.49" width="13.94" height="1.75" fill="#95c3db"/>
<rect x="130.11" y="298.49" width="13.94" height="1.75" fill="#8fc0d9"/>
<rect x="19.00" y="300.18" width="13.94" height="1.75" fill="#ce5045"/>
<rect x="32.89" y="300.18" width="13.94" height="1.75" fill="#fcdfcf"/>
<rect x="46.78" y="300.18" width="13.94" height="1.75" fill="#fbd2bb"/>
<rect x="60.67" y="300.18" width="13.94" height="1.75" fill="#ee9878"/>
<rect x="74.56" y="300.18" width="13.94" height="1.75" fill="#f3e8e3"/>
<rect x="88.44" y="300.18" width="13.94" height="1.75" fill="#fbe4d7"/>
<rect x="102.33" y="300.18" width="13.94" height="1.75" fill="#5795c0"/>
<rect x="116.22" y="300.18" width="13.94" height="1.75" fill="#92c1da"/>
<rect x="130.11" y="300.18" width="13.94" height="1.75" fill="#90c0da"/>
<rect x="19.00" y="301.88" width="13.94" height="1.75" fill="#d15749"/>
<rect x="32.89" y="301.88" width="13.94" height="1.75" fill="#fcd3bd"/>
<rect x="46.78" y="301.88" width="13.94" height="1.75" fill="#f7b99c"/>
<rect x="60.67" y="301.88" width="13.94" height="1.75" fill="#f4a582"/>
<rect x="74.56" y="301.88" width="13.94" height="1.75" fill="#f2ece9"/>
<rect x="88.44" y="301.88" width="13.94" height="1.75" fill="#fdddca"/>
<rect x="102.33" y="301.88" width="13.94" height="1.75" fill="#4b86b9"/>
<rect x="116.22" y="301.88" width="13.94" height="1.75" fill="#82b7d4"/>
<rect x="130.11" y="301.88" width="13.94" height="1.75" fill="#89bdd8"/>
<rect x="19.00" y="303.57" width="13.94" height="1.75" fill="#ee9778"/>
<rect x="32.89" y="303.57" width="13.94" height="1.75" fill="#fae7dc"/>
<rect x="46.78" y="303.57" width="13.94" height="1.75" fill="#fcdecb"/>
<rect x="60.67" y="303.57" width="13.94" height="1.75" fill="#f4a481"/>
<rect x="74.56" y="303.57" width="13.94" height="1.75" fill="#eaedf1"/>
<rect x="88.44" y="303.57" width="13.94" height="1.75" fill="#fbe6db"/>
<rect x="102.33" y="303.57" width="13.94" height="1.75" fill="#5d9cc4"/>
<rect x="116.22" y="303.57" width="13.94" height="1.75" fill="#78b0d1"/>
<rect x="130.11" y="303.57" width="13.94" height="1.75" fill="#95c4dc"/>
<rect x="19.00" y="305.27" width="13.94" height="1.75" fill="#d7614e"/>
<rect x="32.89" y="305.27" width="13.94" height="1.75" fill="#fae7dc"/>
<rect x="46.78" y="305.27" width="13.94" height="1.75" fill="#fac9b0"/>
<rect x="60.67" y="305.27" width="13.94" height="1.75" fill="#f4a481"/>
<rect x="74.56" y="305.27" width="13.94" height="1.75" fill="#f1f0f0"/>
<rect x="88.44" y="305.27" width="13.94" height="1.75" fill="#f9eee7"/>
<rect x="102.33" y="305.27" width="13.94" height="1.75" fill="#6aa4c8"/>
<rect x="116.22" y="305.27" width="13.94" height="1.75" fill="#8bbdd8"/>
<rect x="130.11" y="305.27" width="13.94" height="1.75" fill="#acd0e2"/>
<rect x="19.00" y="306.97" width="13.94" height="1.75" fill="#d25749"/>
<rect x="32.89" y="306.97" width="13.94" height="1.75" fill="#fdddcb"/>
<rect x="46.78" y="306.97" width="13.94" height="1.75" fill="#fcd4bf"/>
<rect x="60.67" y="306.97" width="13.94" height="1.75" fill="#ef9a7a"/>
<rect x="74.56" y="306.97" width="13.94" height="1.75" fill="#f3eae5"/>
<rect x="88.44" y="306.97" width="13.94" height="1.75" fill="#fae9df"/>
<rect x="102.33" y="306.97" width="13.94" height="1.75" fill="#4278b2"/>
<rect x="116.22" y="306.97" width="13.94" height="1.75" fill="#82b6d4"/>
<rect x="130.11" y="306.97" width="13.94" height="1.75" fill="#86bad6"/>
<rect x="19.00" y="308.66" width="13.94" height="1.75" fill="#e48066"/>
<rect x="32.89" y="308.66" width="13.94" height="1.75" fill="#faebe3"/>
<rect x="46.78" y="308.66" width="13.94" height="1.75" fill="#fbe4d6"/>
<rect x="60.67" y="308.66" width="13.94" height="1.75" fill="#ed9575"/>
<rect x="74.56" y="308.66" width="13.94" height="1.75" fill="#f2ece9"/>
<rect x="88.44" y="308.66" width="13.94" height="1.75" fill="#f9ece5"/>
<rect x="102.33" y="308.66" width="13.94" height="1.75" fill="#5796c1"/>
<rect x="116.22" y="308.66" width="13.94" height="1.75" fill="#8dbed8"/>
<rect x="130.11" y="308.66" width="13.94" height="1.75" fill="#b6d5e5"/>
<rect x="19.00" y="310.36" width="13.94" height="1.75" fill="#d45b4b"/>
<rect x="32.89" y="310.36" width="13.94" height="1.75" fill="#fbe4d6"/>
<rect x="46.78" y="310.36" width="13.94" height="1.75" fill="#fac8af"/>
<rect x="60.67" y="310.36" width="13.94" height="1.75" fill="#f4a885"/>
<rect x="74.56" y="310.36" width="13.94" height="1.75" fill="#f4e6e0"/>
<rect x="88.44" y="310.36" width="13.94" height="1.75" fill="#f9ede6"/>
<rect x="102.33" y="310.36" width="13.94" height="1.75" fill="#3c70a7"/>
<rect x="116.22" y="310.36" width="13.94" height="1.75" fill="#8bbdd8"/>
<rect x="130.11" y="310.36" width="13.94" height="1.75" fill="#b3d3e4"/>
<rect x="19.00" y="312.05" width="13.94" height="1.75" fill="#da6853"/>
<rect x="32.89" y="312.05" width="13.94" height="1.75" fill="#f8f3f0"/>
<rect x="46.78" y="312.05" width="13.94" height="1.75" fill="#fbe5d8"/>
<rect x="60.67" y="312.05" width="13.94" height="1.75" fill="#f6b393"/>
<rect x="74.56" y="312.05" width="13.94" height="1.75" fill="#f1f1f1"/>
<rect x="88.44" y="312.05" width="13.94" height="1.75" fill="#f7f7f6"/>
<rect x="102.33" y="312.05" width="13.94" height="1.75" fill="#6aa4c8"/>
<rect x="116.22" y="312.05" width="13.94" height="1.75" fill="#accfe2"/>
<rect x="130.11" y="312.05" width="13.94" height="1.75" fill="#bcd7e7"/>
<rect x="19.00" y="313.75" width="13.94" height="1.75" fill="#cd4d44"/>
<rect x="32.89" y="313.75" width="13.94" height="1.75" fill="#fce0d0"/>
<rect x="46.78" y="313.75" width="13.94" height="1.75" fill="#f9c2a7"/>
<rect x="60.67" y="313.75" width="13.94" height="1.75" fill="#f9c4aa"/>
<rect x="74.56" y="313.75" width="13.94" height="1.75" fill="#f2edec"/>
<rect x="88.44" y="313.75" width="13.94" height="1.75" fill="#f7f6f6"/>
<rect x="102.33" y="313.75" width="13.94" height="1.75" fill="#67a2c7"/>
<rect x="116.22" y="313.75" width="13.94" height="1.75" fill="#a5cbe0"/>
<rect x="130.11" y="313.75" width="13.94" height="1.75" fill="#98c5dd"/>
<rect x="19.00" y="315.45" width="13.94" height="1.75" fill="#e48166"/>
<rect x="32.89" y="315.45" width="13.94" height="1.75" fill="#faebe2"/>
<rect x="46.78" y="315.45" width="13.94" height="1.75" fill="#fae7dc"/>
<rect x="60.67" y="315.45" width="13.94" height="1.75" fill="#f7b89a"/>
<rect x="74.56" y="315.45" width="13.94" height="1.75" fill="#dfe9ee"/>
<rect x="88.44" y="315.45" width="13.94" height="1.75" fill="#f7f5f3"/>
<rect x="102.33" y="315.45" width="13.94" height="1.75" fill="#69a4c8"/>
<rect x="116.22" y="315.45" width="13.94" height="1.75" fill="#a6cce0"/>
<rect x="130.11" y="315.45" width="13.94" height="1.75" fill="#c6ddea"/>
<rect x="19.00" y="317.14" width="13.94" height="1.75" fill="#f8bfa3"/>
<rect x="32.89" y="317.14" width="13.94" height="1.75" fill="#faeae1"/>
<rect x="46.78" y="317.14" width="13.94" height="1.75" fill="#fbe4d7"/>
<rect x="60.67" y="317.14" width="13.94" height="1.75" fill="#f5aa88"/>
<rect x="74.56" y="317.14" width="13.94" height="1.75" fill="#f2ece9"/>
<rect x="88.44" y="317.14" width="13.94" height="1.75" fill="#f9ede6"/>
<rect x="102.33" y="317.14" width="13.94" height="1.75" fill="#89b8d2"/>
<rect x="116.22" y="317.14" width="13.94" height="1.75" fill="#b3d2e4"/>
<rect x="130.11" y="317.14" width="13.94" height="1.75" fill="#94c3dc"/>
<rect x="19.00" y="318.84" width="13.94" height="1.75" fill="#c1373a"/>
<rect x="32.89" y="318.84" width="13.94" height="1.75" fill="#faeae1"/>
<rect x="46.78" y="318.84" width="13.94" height="1.75" fill="#fbcfb8"/>
<rect x="60.67" y="318.84" width="13.94" height="1.75" fill="#f4a784"/>
<rect x="74.56" y="318.84" width="13.94" height="1.75" fill="#f2edec"/>
<rect x="88.44" y="318.84" width="13.94" height="1.75" fill="#fbe4d6"/>
<rect x="102.33" y="318.84" width="13.94" height="1.75" fill="#72a9cb"/>
<rect x="116.22" y="318.84" width="13.94" height="1.75" fill="#93c2da"/>
<rect x="130.11" y="318.84" width="13.94" height="1.75" fill="#aed1e3"/>
<rect x="19.00" y="320.54" width="13.94" height="1.75" fill="#ef9979"/>
<rect x="32.89" y="320.54" width="13.94" height="1.75" fill="#fae8de"/>
<rect x="46.78" y="320.54" width="13.94" height="1.75" fill="#fce1d1"/>
<rect x="60.67" y="320.54" width="13.94" height="1.75" fill="#f9c4a9"/>
<rect x="74.56" y="320.54" width="13.94" height="1.75" fill="#f2eeec"/>
<rect x="88.44" y="320.54" width="13.94" height="1.75" fill="#f9efe9"/>
<rect x="102.33" y="320.54" width="13.94" height="1.75" fill="#86b6d2"/>
<rect x="116.22" y="320.54" width="13.94" height="1.75" fill="#afd0e3"/>
<rect x="130.11" y="320.54" width="13.94" height="1.75" fill="#aacee1"/>
<rect x="19.00" y="322.23" width="13.94" height="1.75" fill="#e37e64"/>
<rect x="32.89" y="322.23" width="13.94" height="1.75" fill="#faebe2"/>
<rect x="46.78" y="322.23" width="13.94" height="1.75" fill="#fbccb4"/>
<rect x="60.67" y="322.23" width="13.94" height="1.75" fill="#e68569"/>
<rect x="74.56" y="322.23" width="13.94" height="1.75" fill="#f4e6df"/>
<rect x="88.44" y="322.23" width="13.94" height="1.75" fill="#faebe3"/>
<rect x="102.33" y="322.23" width="13.94" height="1.75" fill="#5896c1"/>
<rect x="116.22" y="322.23" width="13.94" height="1.75" fill="#a7cce0"/>
<rect x="130.11" y="322.23" width="13.94" height="1.75" fill="#a0cadf"/>
<rect x="19.00" y="323.93" width="13.94" height="1.75" fill="#f4a582"/>
<rect x="32.89" y="323.93" width="13.94" height="1.75" fill="#fae9de"/>
<rect x="46.78" y="323.93" width="13.94" height="1.75" fill="#fac6ad"/>
<rect x="60.67" y="323.93" width="13.94" height="1.75" fill="#f7b697"/>
<rect x="74.56" y="323.93" width="13.94" height="1.75" fill="#f0f1f2"/>
<rect x="88.44" y="323.93" width="13.94" height="1.75" fill="#faeae1"/>
<rect x="102.33" y="323.93" width="13.94" height="1.75" fill="#81b3d0"/>
<rect x="116.22" y="323.93" width="13.94" height="1.75" fill="#a8cde1"/>
<rect x="130.11" y="323.93" width="13.94" height="1.75" fill="#9ac6dd"/>
<rect x="19.00" y="325.62" width="13.94" height="1.75" fill="#e37d64"/>
<rect x="32.89" y="325.62" width="13.94" height="1.75" fill="#f9efe9"/>
<rect x="46.78" y="325.62" width="13.94" height="1.75" fill="#fdddca"/>
<rect x="60.67" y="325.62" width="13.94" height="1.75" fill="#f6af8e"/>
<rect x="74.56" y="325.62" width="13.94" height="1.75" fill="#edeff1"/>
<rect x="88.44" y="325.62" width="13.94" height="1.75" fill="#f9efea"/>
<rect x="102.33" y="325.62" width="13.94" height="1.75" fill="#5796c1"/>
<rect x="116.22" y="325.62" width="13.94" height="1.75" fill="#8dbed8"/>
<rect x="130.11" y="325.62" width="13.94" height="1.75" fill="#95c4dc"/>
<rect x="19.00" y="327.32" width="13.94" height="1.75" fill="#be2f36"/>
<rect x="32.89" y="327.32" width="13.94" height="1.75" fill="#fbe5d8"/>
<rect x="46.78" y="327.32" width="13.94" height="1.75" fill="#fdd9c4"/>
<rect x="60.67" y="327.32" width="13.94" height="1.75" fill="#eb8f71"/>
<rect x="74.56" y="327.32" width="13.94" height="1.75" fill="#f3e9e4"/>
<rect x="88.44" y="327.32" width="13.94" height="1.75" fill="#faeae1"/>
<rect x="102.33" y="327.32" width="13.94" height="1.75" fill="#72a9cb"/>
<rect x="116.22" y="327.32" width="13.94" height="1.75" fill="#7ab2d2"/>
<rect x="130.11" y="327.32" width="13.94" height="1.75" fill="#8cbfd9"/>
<rect x="19.00" y="329.02" width="13.94" height="1.75" fill="#ee9777"/>
<rect x="32.89" y="329.02" width="13.94" height="1.75" fill="#f9ece4"/>
<rect x="46.78" y="329.02" width="13.94" height="1.75" fill="#fdd9c5"/>
<rect x="60.67" y="329.02" width="13.94" height="1.75" fill="#e88b6e"/>
<rect x="74.56" y="329.02" width="13.94" height="1.75" fill="#f3ebe6"/>
<rect x="88.44" y="329.02" width="13.94" height="1.75" fill="#f9ede7"/>
<rect x="102.33" y="329.02" width="13.94" height="1.75" fill="#4c88b9"/>
<rect x="116.22" y="329.02" width="13.94" height="1.75" fill="#9cc7dd"/>
<rect x="130.11" y="329.02" width="13.94" height="1.75" fill="#9ac7dd"/>
<rect x="19.00" y="330.71" width="13.94" height="1.75" fill="#d25849"/>
<rect x="32.89" y="330.71" width="13.94" height="1.75" fill="#fbe7db"/>
<rect x="46.78" y="330.71" width="13.94" height="1.75" fill="#fdddca"/>
<rect x="60.67" y="330.71" width="13.94" height="1.75" fill="#f6b495"/>
<rect x="74.56" y="330.71" width="13.94" height="1.75" fill="#f2ece8"/>
<rect x="88.44" y="330.71" width="13.94" height="1.75" fill="#faebe2"/>
<rect x="102.33" y="330.71" width="13.94" height="1.75" fill="#4e89ba"/>
<rect x="116.22" y="330.71" width="13.94" height="1.75" fill="#8fbfd9"/>
<rect x="130.11" y="330.71" width="13.94" height="1.75" fill="#aed1e3"/>
<rect x="19.00" y="332.41" width="13.94" height="1.75" fill="#ed9475"/>
<rect x="32.89" y="332.41" width="13.94" height="1.75" fill="#f7f5f4"/>
<rect x="46.78" y="332.41" width="13.94" height="1.75" fill="#fcd5c0"/>
<rect x="60.67" y="332.41" width="13.94" height="1.75" fill="#f5a886"/>
<rect x="74.56" y="332.41" width="13.94" height="1.75" fill="#f1efee"/>
<rect x="88.44" y="332.41" width="13.94" height="1.75" fill="#f8f0ec"/>
<rect x="102.33" y="332.41" width="13.94" height="1.75" fill="#6ea7ca"/>
<rect x="116.22" y="332.41" width="13.94" height="1.75" fill="#a9cee1"/>
<rect x="130.11" y="332.41" width="13.94" height="1.75" fill="#9ac7de"/>
<rect x="19.00" y="334.10" width="13.94" height="1.75" fill="#d6604d"/>
<rect x="32.89" y="334.10" width="13.94" height="1.75" fill="#f9eee8"/>
<rect x="46.78" y="334.10" width="13.94" height="1.75" fill="#fbceb6"/>
<rect x="60.67" y="334.10" width="13.94" height="1.75" fill="#ec9374"/>
<rect x="74.56" y="334.10" width="13.94" height="1.75" fill="#f0f1f2"/>
<rect x="88.44" y="334.10" width="13.94" height="1.75" fill="#f9ece4"/>
<rect x="102.33" y="334.10" width="13.94" height="1.75" fill="#5491be"/>
<rect x="116.22" y="334.10" width="13.94" height="1.75" fill="#8abdd7"/>
<rect x="130.11" y="334.10" width="13.94" height="1.75" fill="#a4cbe1"/>
<rect x="19.00" y="335.80" width="13.94" height="1.76" fill="#c2cedb"/>
<rect x="32.89" y="335.80" width="13.94" height="1.76" fill="#d3e6f0"/>
<rect x="46.78" y="335.80" width="13.94" height="1.76" fill="#c6dfed"/>
<rect x="60.67" y="335.80" width="13.94" height="1.76" fill="#e1c0b4"/>
<rect x="74.56" y="335.80" width="13.94" height="1.76" fill="#b2d5e7"/>
<rect x="88.44" y="335.80" width="13.94" height="1.76" fill="#a5cfe3"/>
<rect x="102.33" y="335.80" width="13.94" height="1.76" fill="#e6d1c8"/>
<rect x="116.22" y="335.80" width="13.94" height="1.76" fill="#f8bb9f"/>
<rect x="130.11" y="335.80" width="13.94" height="1.76" fill="#ce4f45"/>
<rect x="19.00" y="337.51" width="13.94" height="1.76" fill="#d8d9e0"/>
<rect x="32.89" y="337.51" width="13.94" height="1.76" fill="#c4dfec"/>
<rect x="46.78" y="337.51" width="13.94" height="1.76" fill="#bad9ea"/>
<rect x="60.67" y="337.51" width="13.94" height="1.76" fill="#c4d1dd"/>
<rect x="74.56" y="337.51" width="13.94" height="1.76" fill="#90c3dd"/>
<rect x="88.44" y="337.51" width="13.94" height="1.76" fill="#a4cee3"/>
<rect x="102.33" y="337.51" width="13.94" height="1.76" fill="#e3dedf"/>
<rect x="116.22" y="337.51" width="13.94" height="1.76" fill="#e58267"/>
<rect x="130.11" y="337.51" width="13.94" height="1.76" fill="#e48166"/>
<rect x="19.00" y="339.22" width="13.94" height="1.76" fill="#c1ceda"/>
<rect x="32.89" y="339.22" width="13.94" height="1.76" fill="#c9e1ee"/>
<rect x="46.78" y="339.22" width="13.94" height="1.76" fill="#dae9f2"/>
<rect x="60.67" y="339.22" width="13.94" height="1.76" fill="#e2d3ce"/>
<rect x="74.56" y="339.22" width="13.94" height="1.76" fill="#a7d0e4"/>
<rect x="88.44" y="339.22" width="13.94" height="1.76" fill="#9ac9e0"/>
<rect x="102.33" y="339.22" width="13.94" height="1.76" fill="#e2e1e4"/>
<rect x="116.22" y="339.22" width="13.94" height="1.76" fill="#f09c7b"/>
<rect x="130.11" y="339.22" width="13.94" height="1.76" fill="#d86450"/>
<rect x="19.00" y="340.93" width="13.94" height="1.76" fill="#dfc4bc"/>
<rect x="32.89" y="340.93" width="13.94" height="1.76" fill="#dfecf3"/>
<rect x="46.78" y="340.93" width="13.94" height="1.76" fill="#c7e0ed"/>
<rect x="60.67" y="340.93" width="13.94" height="1.76" fill="#dfdee1"/>
<rect x="74.56" y="340.93" width="13.94" height="1.76" fill="#a3cee3"/>
<rect x="88.44" y="340.93" width="13.94" height="1.76" fill="#83bbd9"/>
<rect x="102.33" y="340.93" width="13.94" height="1.76" fill="#e3e0e3"/>
<rect x="116.22" y="340.93" width="13.94" height="1.76" fill="#eb9173"/>
<rect x="130.11" y="340.93" width="13.94" height="1.76" fill="#e17a61"/>
<rect x="19.00" y="342.65" width="13.94" height="1.76" fill="#ded4d4"/>
<rect x="32.89" y="342.65" width="13.94" height="1.76" fill="#c3deec"/>
<rect x="46.78" y="342.65" width="13.94" height="1.76" fill="#d1e5f0"/>
<rect x="60.67" y="342.65" width="13.94" height="1.76" fill="#e3cec6"/>
<rect x="74.56" y="342.65" width="13.94" height="1.76" fill="#b2d5e7"/>
<rect x="88.44" y="342.65" width="13.94" height="1.76" fill="#afd4e6"/>
<rect x="102.33" y="342.65" width="13.94" height="1.76" fill="#d5dce3"/>
<rect x="116.22" y="342.65" width="13.94" height="1.76" fill="#f5ac8b"/>
<rect x="130.11" y="342.65" width="13.94" height="1.76" fill="#e98c6f"/>
<rect x="19.00" y="344.36" width="13.94" height="1.76" fill="#dbb1a3"/>
<rect x="32.89" y="344.36" width="13.94" height="1.76" fill="#d3e6f0"/>
<rect x="46.78" y="344.36" width="13.94" height="1.76" fill="#b9d9e9"/>
<rect x="60.67" y="344.36" width="13.94" height="1.76" fill="#e0bcaf"/>
<rect x="74.56" y="344.36" width="13.94" height="1.76" fill="#a0cce2"/>
<rect x="88.44" y="344.36" width="13.94" height="1.76" fill="#bedbeb"/>
<rect x="102.33" y="344.36" width="13.94" height="1.76" fill="#e3dddd"/>
<rect x="116.22" y="344.36" width="13.94" height="1.76" fill="#f4a582"/>
<rect x="130.11" y="344.36" width="13.94" height="1.76" fill="#eb9072"/>
<rect x="19.00" y="346.07" width="13.94" height="1.76" fill="#dfcec8"/>
<rect x="32.89" y="346.07" width="13.94" height="1.76" fill="#b6d8e8"/>
<rect x="46.78" y="346.07" width="13.94" height="1.76" fill="#cee4ef"/>
<rect x="60.67" y="346.07" width="13.94" height="1.76" fill="#dcdde2"/>
<rect x="74.56" y="346.07" width="13.94" height="1.76" fill="#b2d5e7"/>
<rect x="88.44" y="346.07" width="13.94" height="1.76" fill="#97c8e0"/>
<rect x="102.33" y="346.07" width="13.94" height="1.76" fill="#e0765e"/>
<rect x="116.22" y="346.07" width="13.94" height="1.76" fill="#f3a380"/>
<rect x="130.11" y="346.07" width="13.94" height="1.76" fill="#dc6e58"/>
<rect x="19.00" y="347.78" width="13.94" height="1.76" fill="#ded5d5"/>
<rect x="32.89" y="347.78" width="13.94" height="1.76" fill="#dae9f2"/>
<rect x="46.78" y="347.78" width="13.94" height="1.76" fill="#d2e6f0"/>
<rect x="60.67" y="347.78" width="13.94" height="1.76" fill="#e1d9da"/>
<rect x="74.56" y="347.78" width="13.94" height="1.76" fill="#9ecbe1"/>
<rect x="88.44" y="347.78" width="13.94" height="1.76" fill="#95c7df"/>
<rect x="102.33" y="347.78" width="13.94" height="1.76" fill="#d86450"/>
<rect x="116.22" y="347.78" width="13.94" height="1.76" fill="#f6b192"/>
<rect x="130.11" y="347.78" width="13.94" height="1.76" fill="#d96652"/>
<rect x="19.00" y="349.49" width="13.94" height="1.76" fill="#ddd9dc"/>
<rect x="32.89" y="349.49" width="13.94" height="1.76" fill="#c8e0ed"/>
<rect x="46.78" y="349.49" width="13.94" height="1.76" fill="#d2e5f0"/>
<rect x="60.67" y="349.49" width="13.94" height="1.76" fill="#d29388"/>
<rect x="74.56" y="349.49" width="13.94" height="1.76" fill="#afd3e6"/>
<rect x="88.44" y="349.49" width="13.94" height="1.76" fill="#9ac9e0"/>
<rect x="102.33" y="349.49" width="13.94" height="1.76" fill="#ed9576"/>
<rect x="116.22" y="349.49" width="13.94" height="1.76" fill="#ef9979"/>
<rect x="130.11" y="349.49" width="13.94" height="1.76" fill="#ec9374"/>
<rect x="19.00" y="351.20" width="13.94" height="1.76" fill="#d6d8df"/>
<rect x="32.89" y="351.20" width="13.94" height="1.76" fill="#dbeaf2"/>
<rect x="46.78" y="351.20" width="13.94" height="1.76" fill="#c2ddec"/>
<rect x="60.67" y="351.20" width="13.94" height="1.76" fill="#e2d1cb"/>
<rect x="74.56" y="351.20" width="13.94" height="1.76" fill="#a9d0e4"/>
<rect x="88.44" y="351.20" width="13.94" height="1.76" fill="#9fcce2"/>
<rect x="102.33" y="351.20" width="13.94" height="1.76" fill="#dd6f59"/>
<rect x="116.22" y="351.20" width="13.94" height="1.76" fill="#f5ad8c"/>
<rect x="130.11" y="351.20" width="13.94" height="1.76" fill="#e17960"/>
<rect x="19.00" y="352.91" width="13.94" height="1.76" fill="#d4d8de"/>
<rect x="32.89" y="352.91" width="13.94" height="1.76" fill="#d8e8f1"/>
<rect x="46.78" y="352.91" width="13.94" height="1.76" fill="#cae2ee"/>
<rect x="60.67" y="352.91" width="13.94" height="1.76" fill="#e2d1cc"/>
<rect x="74.56" y="352.91" width="13.94" height="1.76" fill="#bbdaea"/>
<rect x="88.44" y="352.91" width="13.94" height="1.76" fill="#b8d8e9"/>
<rect x="102.33" y="352.91" width="13.94" height="1.76" fill="#db6b55"/>
<rect x="116.22" y="352.91" width="13.94" height="1.76" fill="#f6b192"/>
<rect x="130.11" y="352.91" width="13.94" height="1.76" fill="#f3a481"/>
<rect x="19.00" y="354.63" width="13.94" height="1.76" fill="#ded5d4"/>
<rect x="32.89" y="354.63" width="13.94" height="1.76" fill="#d4e6f1"/>
<rect x="46.78" y="354.63" width="13.94" height="1.76" fill="#bcdbea"/>
<rect x="60.67" y="354.63" width="13.94" height="1.76" fill="#dcdde2"/>
<rect x="74.56" y="354.63" width="13.94" height="1.76" fill="#bbdaea"/>
<rect x="88.44" y="354.63" width="13.94" height="1.76" fill="#cfe4f0"/>
<rect x="102.33" y="354.63" width="13.94" height="1.76" fill="#d6604d"/>
<rect x="116.22" y="354.63" width="13.94" height="1.76" fill="#f7b496"/>
<rect x="130.11" y="354.63" width="13.94" height="1.76" fill="#e68469"/>
<rect x="19.00" y="356.34" width="13.94" height="1.76" fill="#d2d7de"/>
<rect x="32.89" y="356.34" width="13.94" height="1.76" fill="#d6e7f1"/>
<rect x="46.78" y="356.34" width="13.94" height="1.76" fill="#b6d7e8"/>
<rect x="60.67" y="356.34" width="13.94" height="1.76" fill="#dfdde1"/>
<rect x="74.56" y="356.34" width="13.94" height="1.76" fill="#b5d7e8"/>
<rect x="88.44" y="356.34" width="13.94" height="1.76" fill="#acd2e5"/>
<rect x="102.33" y="356.34" width="13.94" height="1.76" fill="#dd7059"/>
<rect x="116.22" y="356.34" width="13.94" height="1.76" fill="#fac8af"/>
<rect x="130.11" y="356.34" width="13.94" height="1.76" fill="#e98c6f"/>
<rect x="19.00" y="358.05" width="13.94" height="1.76" fill="#c8d2dc"/>
<rect x="32.89" y="358.05" width="13.94" height="1.76" fill="#dceaf2"/>
<rect x="46.78" y="358.05" width="13.94" height="1.76" fill="#bcdaea"/>
<rect x="60.67" y="358.05" width="13.94" height="1.76" fill="#e2d3ce"/>
<rect x="74.56" y="358.05" width="13.94" height="1.76" fill="#bedceb"/>
<rect x="88.44" y="358.05" width="13.94" height="1.76" fill="#b1d5e7"/>
<rect x="102.33" y="358.05" width="13.94" height="1.76" fill="#ed9576"/>
<rect x="116.22" y="358.05" width="13.94" height="1.76" fill="#f9c1a6"/>
<rect x="130.11" y="358.05" width="13.94" height="1.76" fill="#ea8d70"/>
<rect x="19.00" y="359.76" width="13.94" height="1.76" fill="#c8d2dc"/>
<rect x="32.89" y="359.76" width="13.94" height="1.76" fill="#b3d6e7"/>
<rect x="46.78" y="359.76" width="13.94" height="1.76" fill="#c1ddeb"/>
<rect x="60.67" y="359.76" width="13.94" height="1.76" fill="#e2d4d0"/>
<rect x="74.56" y="359.76" width="13.94" height="1.76" fill="#b9d9e9"/>
<rect x="88.44" y="359.76" width="13.94" height="1.76" fill="#aad1e5"/>
<rect x="102.33" y="359.76" width="13.94" height="1.76" fill="#d7614e"/>
<rect x="116.22" y="359.76" width="13.94" height="1.76" fill="#f8ba9d"/>
<rect x="130.11" y="359.76" width="13.94" height="1.76" fill="#e0785f"/>
<rect x="19.00" y="361.47" width="13.94" height="1.76" fill="#dfd3d1"/>
<rect x="32.89" y="361.47" width="13.94" height="1.76" fill="#dae9f2"/>
<rect x="46.78" y="361.47" width="13.94" height="1.76" fill="#bbdaea"/>
<rect x="60.67" y="361.47" width="13.94" height="1.76" fill="#dfb3a4"/>
<rect x="74.56" y="361.47" width="13.94" height="1.76" fill="#aed3e6"/>
<rect x="88.44" y="361.47" width="13.94" height="1.76" fill="#b4d6e8"/>
<rect x="102.33" y="361.47" width="13.94" height="1.76" fill="#f5aa88"/>
<rect x="116.22" y="361.47" width="13.94" height="1.76" fill="#f8bda1"/>
<rect x="130.11" y="361.47" width="13.94" height="1.76" fill="#f2a07e"/>
<rect x="19.00" y="363.18" width="13.94" height="1.76" fill="#d5d8de"/>
<rect x="32.89" y="363.18" width="13.94" height="1.76" fill="#e1ecf3"/>
<rect x="46.78" y="363.18" width="13.94" height="1.76" fill="#c9e1ee"/>
<rect x="60.67" y="363.18" width="13.94" height="1.76" fill="#e1d5d2"/>
<rect x="74.56" y="363.18" width="13.94" height="1.76" fill="#a9d1e5"/>
<rect x="88.44" y="363.18" width="13.94" height="1.76" fill="#c5dfed"/>
<rect x="102.33" y="363.18" width="13.94" height="1.76" fill="#c84540"/>
<rect x="116.22" y="363.18" width="13.94" height="1.76" fill="#f7b89b"/>
<rect x="130.11" y="363.18" width="13.94" height="1.76" fill="#f6b191"/>
<rect x="19.00" y="364.89" width="13.94" height="1.76" fill="#dec0b6"/>
<rect x="32.89" y="364.89" width="13.94" height="1.76" fill="#dae9f2"/>
<rect x="46.78" y="364.89" width="13.94" height="1.76" fill="#bddbea"/>
<rect x="60.67" y="364.89" width="13.94" height="1.76" fill="#e2d4d1"/>
<rect x="74.56" y="364.89" width="13.94" height="1.76" fill="#97c7df"/>
<rect x="88.44" y="364.89" width="13.94" height="1.76" fill="#b3d6e7"/>
<rect x="102.33" y="364.89" width="13.94" height="1.76" fill="#e58267"/>
<rect x="116.22" y="364.89" width="13.94" height="1.76" fill="#f7b89a"/>
<rect x="130.11" y="364.89" width="13.94" height="1.76" fill="#f5ae8d"/>
<rect x="19.00" y="366.61" width="13.94" height="1.76" fill="#d1d7de"/>
<rect x="32.89" y="366.61" width="13.94" height="1.76" fill="#d8e8f1"/>
<rect x="46.78" y="366.61" width="13.94" height="1.76" fill="#c6dfed"/>
<rect x="60.67" y="366.61" width="13.94" height="1.76" fill="#d6dae1"/>
<rect x="74.56" y="366.61" width="13.94" height="1.76" fill="#b0d4e7"/>
<rect x="88.44" y="366.61" width="13.94" height="1.76" fill="#b2d5e7"/>
<rect x="102.33" y="366.61" width="13.94" height="1.76" fill="#d7624f"/>
<rect x="116.22" y="366.61" width="13.94" height="1.76" fill="#fce0d0"/>
<rect x="130.11" y="366.61" width="13.94" height="1.76" fill="#f5ad8c"/>
<rect x="19.00" y="368.32" width="13.94" height="1.76" fill="#cad3dd"/>
<rect x="32.89" y="368.32" width="13.94" height="1.76" fill="#cfe4ef"/>
<rect x="46.78" y="368.32" width="13.94" height="1.76" fill="#c3deec"/>
<rect x="60.67" y="368.32" width="13.94" height="1.76" fill="#e2d4d0"/>
<rect x="74.56" y="368.32" width="13.94" height="1.76" fill="#aed3e6"/>
<rect x="88.44" y="368.32" width="13.94" height="1.76" fill="#8fc3dd"/>
<rect x="102.33" y="368.32" width="13.94" height="1.76" fill="#cb4a42"/>
<rect x="116.22" y="368.32" width="13.94" height="1.76" fill="#fcd2bc"/>
<rect x="130.11" y="368.32" width="13.94" height="1.76" fill="#f6b393"/>
<rect x="19.00" y="370.03" width="13.94" height="1.76" fill="#ded8d9"/>
<rect x="32.89" y="370.03" width="13.94" height="1.76" fill="#e6eff4"/>
<rect x="46.78" y="370.03" width="13.94" height="1.76" fill="#abd2e5"/>
<rect x="60.67" y="370.03" width="13.94" height="1.76" fill="#cbd5df"/>
<rect x="74.56" y="370.03" width="13.94" height="1.76" fill="#bedbeb"/>
<rect x="88.44" y="370.03" width="13.94" height="1.76" fill="#9dcae1"/>
<rect x="102.33" y="370.03" width="13.94" height="1.76" fill="#b82431"/>
<rect x="116.22" y="370.03" width="13.94" height="1.76" fill="#fce0cf"/>
<rect x="130.11" y="370.03" width="13.94" height="1.76" fill="#f7b799"/>
<rect x="19.00" y="371.74" width="13.94" height="1.76" fill="#e0cdc7"/>
<rect x="32.89" y="371.74" width="13.94" height="1.76" fill="#ddebf2"/>
<rect x="46.78" y="371.74" width="13.94" height="1.76" fill="#cae1ee"/>
<rect x="60.67" y="371.74" width="13.94" height="1.76" fill="#e2c9bf"/>
<rect x="74.56" y="371.74" width="13.94" height="1.76" fill="#afd4e6"/>
<rect x="88.44" y="371.74" width="13.94" height="1.76" fill="#a2cde3"/>
<rect x="102.33" y="371.74" width="13.94" height="1.76" fill="#d15749"/>
<rect x="116.22" y="371.74" width="13.94" height="1.76" fill="#f8bc9f"/>
<rect x="130.11" y="371.74" width="13.94" height="1.76" fill="#f3a280"/>
<rect x="19.00" y="373.45" width="13.94" height="1.76" fill="#dddadd"/>
<rect x="32.89" y="373.45" width="13.94" height="1.76" fill="#d8e8f1"/>
<rect x="46.78" y="373.45" width="13.94" height="1.76" fill="#d0e5f0"/>
<rect x="60.67" y="373.45" width="13.94" height="1.76" fill="#deb2a1"/>
<rect x="74.56" y="373.45" width="13.94" height="1.76" fill="#afd4e6"/>
<rect x="88.44" y="373.45" width="13.94" height="1.76" fill="#a7d0e4"/>
<rect x="102.33" y="373.45" width="13.94" height="1.76" fill="#c6413e"/>
<rect x="116.22" y="373.45" width="13.94" height="1.76" fill="#f4a582"/>
<rect x="130.11" y="373.45" width="13.94" height="1.76" fill="#f6af8e"/>
<rect x="19.00" y="375.16" width="13.94" height="1.76" fill="#dec1b8"/>
<rect x="32.89" y="375.16" width="13.94" height="1.76" fill="#c0dceb"/>
<rect x="46.78" y="375.16" width="13.94" height="1.76" fill="#d1e5f0"/>
<rect x="60.67" y="375.16" width="13.94" height="1.76" fill="#cfd7e0"/>
<rect x="74.56" y="375.16" width="13.94" height="1.76" fill="#a0cce2"/>
<rect x="88.44" y="375.16" width="13.94" height="1.76" fill="#9fcce2"/>
<rect x="102.33" y="375.16" width="13.94" height="1.76" fill="#cd4e45"/>
<rect x="116.22" y="375.16" width="13.94" height="1.76" fill="#fcd7c2"/>
<rect x="130.11" y="375.16" width="13.94" height="1.76" fill="#f6af8f"/>
<rect x="19.00" y="376.87" width="13.94" height="1.76" fill="#ded7d7"/>
<rect x="32.89" y="376.87" width="13.94" height="1.76" fill="#d1e5f0"/>
<rect x="46.78" y="376.87" width="13.94" height="1.76" fill="#e3eef3"/>
<rect x="60.67" y="376.87" width="13.94" height="1.76" fill="#e2cbc2"/>
<rect x="74.56" y="376.87" width="13.94" height="1.76" fill="#bcdbea"/>
<rect x="88.44" y="376.87" width="13.94" height="1.76" fill="#c7e0ed"/>
<rect x="102.33" y="376.87" width="13.94" height="1.76" fill="#b82430"/>
<rect x="116.22" y="376.87" width="13.94" height="1.76" fill="#fcd2bc"/>
<rect x="130.11" y="376.87" width="13.94" height="1.76" fill="#f6b394"/>
<rect x="19.00" y="378.59" width="13.94" height="1.76" fill="#dbb0a1"/>
<rect x="32.89" y="378.59" width="13.94" height="1.76" fill="#c7e0ed"/>
<rect x="46.78" y="378.59" width="13.94" height="1.76" fill="#b1d5e7"/>
<rect x="60.67" y="378.59" width="13.94" height="1.76" fill="#e2d0ca"/>
<rect x="74.56" y="378.59" width="13.94" height="1.76" fill="#90c4dd"/>
<rect x="88.44" y="378.59" width="13.94" height="1.76" fill="#9dcbe1"/>
<rect x="102.33" y="378.59" width="13.94" height="1.76" fill="#b31b2c"/>
<rect x="116.22" y="378.59" width="13.94" height="1.76" fill="#fbe2d4"/>
<rect x="130.11" y="378.59" width="13.94" height="1.76" fill="#f7b99b"/>
<rect x="19.00" y="380.30" width="13.94" height="1.76" fill="#dfcfcb"/>
<rect x="32.89" y="380.30" width="13.94" height="1.76" fill="#c6dfed"/>
<rect x="46.78" y="380.30" width="13.94" height="1.76" fill="#c7e0ed"/>
<rect x="60.67" y="380.30" width="13.94" height="1.76" fill="#dfdde0"/>
<rect x="74.56" y="380.30" width="13.94" height="1.76" fill="#a0cce2"/>
<rect x="88.44" y="380.30" width="13.94" height="1.76" fill="#a5cee3"/>
<rect x="102.33" y="380.30" width="13.94" height="1.76" fill="#c7423f"/>
<rect x="116.22" y="380.30" width="13.94" height="1.76" fill="#fbe3d5"/>
<rect x="130.11" y="380.30" width="13.94" height="1.76" fill="#facbb3"/>
<rect x="19.00" y="382.01" width="13.94" height="1.76" fill="#e0cac4"/>
<rect x="32.89" y="382.01" width="13.94" height="1.76" fill="#dfecf3"/>
<rect x="46.78" y="382.01" width="13.94" height="1.76" fill="#cce2ee"/>
<rect x="60.67" y="382.01" width="13.94" height="1.76" fill="#e2d4d1"/>
<rect x="74.56" y="382.01" width="13.94" height="1.76" fill="#a0cce2"/>
<rect x="88.44" y="382.01" width="13.94" height="1.76" fill="#9ccae1"/>
<rect x="102.33" y="382.01" width="13.94" height="1.76" fill="#d86450"/>
<rect x="116.22" y="382.01" width="13.94" height="1.76" fill="#fcdfcd"/>
<rect x="130.11" y="382.01" width="13.94" height="1.76" fill="#f6b090"/>
<rect x="19.00" y="383.72" width="13.94" height="1.76" fill="#e0ccc6"/>
<rect x="32.89" y="383.72" width="13.94" height="1.76" fill="#d5e7f1"/>
<rect x="46.78" y="383.72" width="13.94" height="1.76" fill="#bbdaea"/>
<rect x="60.67" y="383.72" width="13.94" height="1.76" fill="#e2d0c9"/>
<rect x="74.56" y="383.72" width="13.94" height="1.76" fill="#b3d6e8"/>
<rect x="88.44" y="383.72" width="13.94" height="1.76" fill="#b2d5e7"/>
<rect x="102.33" y="383.72" width="13.94" height="1.76" fill="#9e1228"/>
<rect x="116.22" y="383.72" width="13.94" height="1.76" fill="#fae9df"/>
<rect x="130.11" y="383.72" width="13.94" height="1.76" fill="#ef9a79"/>
<rect x="19.00" y="385.43" width="13.94" height="1.76" fill="#a5c1d2"/>
<rect x="32.89" y="385.43" width="13.94" height="1.76" fill="#bddbea"/>
<rect x="46.78" y="385.43" width="13.94" height="1.76" fill="#a7d0e4"/>
<rect x="60.67" y="385.43" width="13.94" height="1.76" fill="#d8dbe1"/>
<rect x="74.56" y="385.43" width="13.94" height="1.76" fill="#aed3e6"/>
<rect x="88.44" y="385.43" width="13.94" height="1.76" fill="#c8e0ed"/>
<rect x="102.33" y="385.43" width="13.94" height="1.76" fill="#ce4f45"/>
<rect x="116.22" y="385.43" width="13.94" height="1.76" fill="#fcd7c2"/>
<rect x="130.11" y="385.43" width="13.94" height="1.76" fill="#fbceb7"/>
<rect x="19.00" y="387.14" width="13.94" height="1.76" fill="#ded8d9"/>
<rect x="32.89" y="387.14" width="13.94" height="1.76" fill="#c8e0ed"/>
<rect x="46.78" y="387.14" width="13.94" height="1.76" fill="#e0ecf3"/>
<rect x="60.67" y="387.14" width="13.94" height="1.76" fill="#e2d3cf"/>
<rect x="74.56" y="387.14" width="13.94" height="1.76" fill="#a8d0e4"/>
<rect x="88.44" y="387.14" width="13.94" height="1.76" fill="#cbe2ee"/>
<rect x="102.33" y="387.14" width="13.94" height="1.76" fill="#bc2d35"/>
<rect x="116.22" y="387.14" width="13.94" height="1.76" fill="#fce1d2"/>
<rect x="130.11" y="387.14" width="13.94" height="1.76" fill="#fbcdb5"/>
<rect x="19.00" y="388.85" width="13.94" height="1.76" fill="#ced4dd"/>
<rect x="32.89" y="388.85" width="13.94" height="1.76" fill="#c2ddec"/>
<rect x="46.78" y="388.85" width="13.94" height="1.76" fill="#bfdceb"/>
<rect x="60.67" y="388.85" width="13.94" height="1.76" fill="#d8a193"/>
<rect x="74.56" y="388.85" width="13.94" height="1.76" fill="#b8d8e9"/>
<rect x="88.44" y="388.85" width="13.94" height="1.76" fill="#a6cfe4"/>
<rect x="102.33" y="388.85" width="13.94" height="1.76" fill="#a41329"/>
<rect x="116.22" y="388.85" width="13.94" height="1.76" fill="#f8f0ec"/>
<rect x="130.11" y="388.85" width="13.94" height="1.76" fill="#f6b393"/>
<rect x="19.00" y="390.57" width="13.94" height="1.76" fill="#dddade"/>
<rect x="32.89" y="390.57" width="13.94" height="1.76" fill="#cbe2ee"/>
<rect x="46.78" y="390.57" width="13.94" height="1.76" fill="#cee3ef"/>
<rect x="60.67" y="390.57" width="13.94" height="1.76" fill="#e2c7bd"/>
<rect x="74.56" y="390.57" width="13.94" height="1.76" fill="#acd2e5"/>
<rect x="88.44" y="390.57" width="13.94" height="1.76" fill="#acd2e5"/>
<rect x="102.33" y="390.57" width="13.94" height="1.76" fill="#a31329"/>
<rect x="116.22" y="390.57" width="13.94" height="1.76" fill="#fddac6"/>
<rect x="130.11" y="390.57" width="13.94" height="1.76" fill="#fcdecc"/>
<rect x="19.00" y="392.28" width="13.94" height="1.76" fill="#8fb2cb"/>
<rect x="32.89" y="392.28" width="13.94" height="1.76" fill="#e7f0f4"/>
<rect x="46.78" y="392.28" width="13.94" height="1.76" fill="#bddbea"/>
<rect x="60.67" y="392.28" width="13.94" height="1.76" fill="#e1dada"/>
<rect x="74.56" y="392.28" width="13.94" height="1.76" fill="#b8d9e9"/>
<rect x="88.44" y="392.28" width="13.94" height="1.76" fill="#a2cde3"/>
<rect x="102.33" y="392.28" width="13.94" height="1.76" fill="#9e1128"/>
<rect x="116.22" y="392.28" width="13.94" height="1.76" fill="#f7f7f6"/>
<rect x="130.11" y="392.28" width="13.94" height="1.76" fill="#fcd7c1"/>
<rect x="19.00" y="393.99" width="13.94" height="1.76" fill="#c3cfdb"/>
<rect x="32.89" y="393.99" width="13.94" height="1.76" fill="#e3edf3"/>
<rect x="46.78" y="393.99" width="13.94" height="1.76" fill="#bedbea"/>
<rect x="60.67" y="393.99" width="13.94" height="1.76" fill="#dfb4a5"/>
<rect x="74.56" y="393.99" width="13.94" height="1.76" fill="#c8e0ed"/>
<rect x="88.44" y="393.99" width="13.94" height="1.76" fill="#97c7df"/>
<rect x="102.33" y="393.99" width="13.94" height="1.76" fill="#bd2e36"/>
<rect x="116.22" y="393.99" width="13.94" height="1.76" fill="#fbe5d7"/>
<rect x="130.11" y="393.99" width="13.94" height="1.76" fill="#fcd5bf"/>
<defs><linearGradient id="cb" x1="0" y1="0" x2="0" y2="1"><stop offset="0" stop-color="#67001f"/><stop offset="0.15" stop-color="#b2182b"/><stop offset="0.3" stop-color="#e07a5f"/><stop offset="0.42" stop-color="#fbd5c0"/><stop offset="0.5" stop-color="#f7f7f7"/><stop offset="0.58" stop-color="#cfe3ef"/><stop offset="0.72" stop-color="#7fb2d6"/><stop offset="0.86" stop-color="#2f70b0"/><stop offset="1" stop-color="#053061"/></linearGradient></defs>
<rect x="146.00" y="249.60" width="3.40" height="37.20" fill="url(#cb)"/>
<text x="151.40" y="254.20" font-size="5.6" fill="#302a40">2</text>
<text x="151.40" y="262.20" font-size="5.6" fill="#302a40">1</text>
<text x="151.40" y="270.40" font-size="5.6" fill="#302a40">0</text>
<text x="151.40" y="278.40" font-size="5.6" fill="#302a40">1</text>
<text x="151.40" y="286.00" font-size="5.6" fill="#302a40">2</text>
<path d="M19.8 398 L19.8 404.1 L59.4 404.1 L59.4 398" fill="none" stroke="#333" stroke-width="0.9"/>
<path d="M59.4 398 L59.4 404.1 L101.2 404.1 L101.2 398" fill="none" stroke="#333" stroke-width="0.9"/>
<path d="M101.2 398 L101.2 404.1 L144.2 404.1 L144.2 398" fill="none" stroke="#333" stroke-width="0.9"/>
<rect x="22.80" y="405.40" width="33.50" height="9.60" fill="#a9c466" stroke="#8aa34c" stroke-width="0.6"/>
<text x="39.55" y="412.90" font-size="7.4" font-weight="bold" fill="#3d4d12" text-anchor="middle" textLength="30.5" lengthAdjust="spacingAndGlyphs">E+L - HE</text>
<rect x="62.50" y="405.20" width="36.30" height="9.00" fill="#6d8fd3" stroke="#5a78b8" stroke-width="0.6"/>
<text x="80.65" y="412.10" font-size="7.4" font-weight="bold" fill="#1b2f72" text-anchor="middle" textLength="33.3" lengthAdjust="spacingAndGlyphs">E+L + HE</text>
<rect x="106.50" y="405.20" width="36.00" height="9.00" fill="#c4534d" stroke="#a84040" stroke-width="0.6"/>
<text x="124.50" y="412.10" font-size="7.4" font-weight="bold" fill="#6e1515" text-anchor="middle" textLength="33.0" lengthAdjust="spacingAndGlyphs">E-L + HE</text>
<text x="157.60" y="244.40" font-size="9.5" fill="#000" font-weight="bold">ii</text>
<text x="170.20" y="244.60" font-size="8.6" fill="#000">Genes associated with HE function</text>
<line x1="162.00" y1="248.60" x2="315.00" y2="248.60" stroke="#111" stroke-width="1.1"/>
<text x="163.60" y="257.90" font-size="8.2" fill="#000">FPKMs</text>
<text x="250.50" y="257.90" font-size="8.2" fill="#000">FPKMs</text>
<rect x="163.80" y="260.20" width="8.85" height="7.99" fill="#3a5b9c"/>
<rect x="250.20" y="261.00" width="8.85" height="7.99" fill="#d09088"/>
<rect x="172.60" y="260.20" width="8.75" height="7.99" fill="#3e61a3"/>
<rect x="259.00" y="261.00" width="9.05" height="7.99" fill="#d09088"/>
<rect x="181.30" y="260.20" width="8.65" height="7.99" fill="#e8dcc8"/>
<rect x="268.00" y="261.00" width="8.85" height="7.99" fill="#d8a8a0"/>
<text x="193.00" y="266.80" font-size="8.4" fill="#1a1a1a" font-style="italic">Treml2</text>
<text x="279.30" y="266.80" font-size="8.4" fill="#1a1a1a" font-style="italic">Tek</text>
<rect x="163.80" y="268.14" width="8.85" height="7.99" fill="#d8d4c8"/>
<rect x="250.20" y="268.94" width="8.85" height="7.99" fill="#e0e0d4"/>
<rect x="172.60" y="268.14" width="8.75" height="7.99" fill="#4a6aa8"/>
<rect x="259.00" y="268.94" width="9.05" height="7.99" fill="#e0e0d4"/>
<rect x="181.30" y="268.14" width="8.65" height="7.99" fill="#c26a62"/>
<rect x="268.00" y="268.94" width="8.85" height="7.99" fill="#e4e2d6"/>
<text x="193.00" y="274.74" font-size="8.4" fill="#1a1a1a" font-style="italic">Tuba8</text>
<text x="279.30" y="275.04" font-size="8.4" fill="#1a1a1a" font-style="italic">Kit</text>
<rect x="163.80" y="276.08" width="8.85" height="7.99" fill="#ded2c4"/>
<rect x="250.20" y="276.88" width="8.85" height="7.99" fill="#dcb0a8"/>
<rect x="172.60" y="276.08" width="8.75" height="7.99" fill="#d8a898"/>
<rect x="259.00" y="276.88" width="9.05" height="7.99" fill="#dcb0a8"/>
<rect x="181.30" y="276.08" width="8.65" height="7.99" fill="#c04a44"/>
<rect x="268.00" y="276.88" width="8.85" height="7.99" fill="#e7dcd0"/>
<text x="193.00" y="282.68" font-size="8.4" fill="#1a1a1a" font-style="italic">Chpf</text>
<text x="279.30" y="283.18" font-size="8.4" fill="#1a1a1a" font-style="italic">Tie1</text>
<rect x="163.80" y="284.02" width="8.85" height="7.99" fill="#c0c8d0"/>
<rect x="250.20" y="284.82" width="8.85" height="7.99" fill="#d8a8a0"/>
<rect x="172.60" y="284.02" width="8.75" height="7.99" fill="#e8e4d8"/>
<rect x="259.00" y="284.82" width="9.05" height="7.99" fill="#dcb0a8"/>
<rect x="181.30" y="284.02" width="8.65" height="7.99" fill="#e0b0a0"/>
<rect x="268.00" y="284.82" width="8.85" height="7.99" fill="#e6dccf"/>
<text x="193.00" y="290.62" font-size="8.4" fill="#1a1a1a" font-style="italic">Atp2a3</text>
<text x="279.30" y="291.42" font-size="8.4" fill="#1a1a1a" font-style="italic">Icam2</text>
<rect x="163.80" y="291.96" width="8.85" height="7.99" fill="#e8e0c8"/>
<rect x="250.20" y="292.76" width="8.85" height="7.99" fill="#c85058"/>
<rect x="172.60" y="291.96" width="8.75" height="7.99" fill="#b8c0c8"/>
<rect x="259.00" y="292.76" width="9.05" height="7.99" fill="#c85058"/>
<rect x="181.30" y="291.96" width="8.65" height="7.99" fill="#d8a092"/>
<rect x="268.00" y="292.76" width="8.85" height="7.99" fill="#d07070"/>
<text x="193.00" y="298.56" font-size="8.4" fill="#1a1a1a" font-style="italic">Dapp1</text>
<text x="279.30" y="299.16" font-size="8.4" fill="#1a1a1a" font-style="italic">Cdh5</text>
<rect x="163.80" y="299.91" width="8.85" height="7.99" fill="#6080b0"/>
<rect x="250.20" y="300.71" width="8.85" height="7.99" fill="#e0c0b8"/>
<rect x="172.60" y="299.91" width="8.75" height="7.99" fill="#3a5a9a"/>
<rect x="259.00" y="300.71" width="9.05" height="7.99" fill="#e0c0b8"/>
<rect x="181.30" y="299.91" width="8.65" height="7.99" fill="#e0b8a8"/>
<rect x="268.00" y="300.71" width="8.85" height="7.99" fill="#e6dcd0"/>
<text x="193.00" y="306.51" font-size="8.4" fill="#1a1a1a" font-style="italic">Ikzf2</text>
<text x="279.30" y="307.01" font-size="8.4" fill="#1a1a1a" font-style="italic">Cd34</text>
<rect x="163.80" y="307.85" width="8.85" height="7.99" fill="#e8e4cc"/>
<rect x="250.20" y="308.65" width="8.85" height="7.99" fill="#e4c8c0"/>
<rect x="172.60" y="307.85" width="8.75" height="7.99" fill="#b0bcc8"/>
<rect x="259.00" y="308.65" width="9.05" height="7.99" fill="#e4c8c0"/>
<rect x="181.30" y="307.85" width="8.65" height="7.99" fill="#c04440"/>
<rect x="268.00" y="308.65" width="8.85" height="7.99" fill="#e6ddd0"/>
<text x="193.00" y="314.45" font-size="8.4" fill="#1a1a1a" font-style="italic">Myb</text>
<text x="279.30" y="316.15" font-size="8.4" fill="#1a1a1a" font-style="italic">Cd93</text>
<rect x="163.80" y="315.79" width="8.85" height="7.99" fill="#b0c0cc"/>
<rect x="250.20" y="316.59" width="8.85" height="7.99" fill="#cc6c70"/>
<rect x="172.60" y="315.79" width="8.75" height="7.99" fill="#c0c8d0"/>
<rect x="259.00" y="316.59" width="9.05" height="7.99" fill="#cc6c70"/>
<rect x="181.30" y="315.79" width="8.65" height="7.99" fill="#dcb0a0"/>
<rect x="268.00" y="316.59" width="8.85" height="7.99" fill="#e6dcd0"/>
<text x="193.00" y="322.39" font-size="8.4" fill="#1a1a1a" font-style="italic">Nfe2</text>
<text x="279.30" y="323.99" font-size="8.4" fill="#1a1a1a" font-style="italic">Eng</text>
<rect x="163.80" y="323.73" width="8.85" height="7.99" fill="#6a84b0"/>
<rect x="250.20" y="324.53" width="8.85" height="7.99" fill="#e4dcd0"/>
<rect x="172.60" y="323.73" width="8.75" height="7.99" fill="#6a84b0"/>
<rect x="259.00" y="324.53" width="9.05" height="7.99" fill="#e4dcd0"/>
<rect x="181.30" y="323.73" width="8.65" height="7.99" fill="#d8a898"/>
<rect x="268.00" y="324.53" width="8.85" height="7.99" fill="#e6dfd2"/>
<text x="193.00" y="330.33" font-size="8.4" fill="#1a1a1a" font-style="italic">Gpr56</text>
<text x="279.30" y="332.43" font-size="8.4" fill="#1a1a1a" font-style="italic">Dnmt3a</text>
<rect x="163.80" y="331.67" width="8.85" height="7.99" fill="#e4e0d0"/>
<rect x="250.20" y="332.47" width="8.85" height="7.99" fill="#e0ccc0"/>
<rect x="172.60" y="331.67" width="8.75" height="7.99" fill="#e4e0d0"/>
<rect x="259.00" y="332.47" width="9.05" height="7.99" fill="#e0ccc0"/>
<rect x="181.30" y="331.67" width="8.65" height="7.99" fill="#c04a44"/>
<rect x="268.00" y="332.47" width="8.85" height="7.99" fill="#e6ddd0"/>
<text x="193.00" y="338.27" font-size="8.4" fill="#1a1a1a" font-style="italic">Igfbp2</text>
<text x="279.30" y="338.87" font-size="8.4" fill="#1a1a1a" font-style="italic">Esam</text>
<rect x="163.80" y="339.61" width="8.85" height="7.99" fill="#d07870"/>
<rect x="250.20" y="340.41" width="8.85" height="7.99" fill="#dcdad0"/>
<rect x="172.60" y="339.61" width="8.75" height="7.99" fill="#d07870"/>
<rect x="259.00" y="340.41" width="9.05" height="7.99" fill="#dcdad0"/>
<rect x="181.30" y="339.61" width="8.65" height="7.99" fill="#c04a44"/>
<rect x="268.00" y="340.41" width="8.85" height="7.99" fill="#a0aac0"/>
<text x="193.00" y="346.21" font-size="8.4" fill="#1a1a1a" font-style="italic">Car2</text>
<text x="279.30" y="347.81" font-size="8.4" fill="#1a1a1a" font-style="italic">Acvrl1</text>
<rect x="163.80" y="347.55" width="8.85" height="7.99" fill="#e0c8c0"/>
<rect x="250.20" y="348.35" width="8.85" height="7.99" fill="#b8c0cc"/>
<rect x="172.60" y="347.55" width="8.75" height="7.99" fill="#e0c8c0"/>
<rect x="259.00" y="348.35" width="9.05" height="7.99" fill="#b8c0cc"/>
<rect x="181.30" y="347.55" width="8.65" height="7.99" fill="#d08070"/>
<rect x="268.00" y="348.35" width="8.85" height="7.99" fill="#98a4bc"/>
<text x="193.00" y="354.15" font-size="8.4" fill="#1a1a1a" font-style="italic">Lgals9</text>
<text x="279.30" y="355.15" font-size="8.4" fill="#1a1a1a" font-style="italic">Cd40</text>
<rect x="163.80" y="355.49" width="8.85" height="7.99" fill="#4a6aa8"/>
<rect x="250.20" y="356.29" width="8.85" height="7.99" fill="#e0d0c0"/>
<rect x="172.60" y="355.49" width="8.75" height="7.99" fill="#4a6aa8"/>
<rect x="259.00" y="356.29" width="9.05" height="7.99" fill="#ece4cc"/>
<rect x="181.30" y="355.49" width="8.65" height="7.99" fill="#e8dcd0"/>
<rect x="268.00" y="356.29" width="8.85" height="7.99" fill="#a0a8c0"/>
<text x="193.00" y="362.09" font-size="8.4" fill="#1a1a1a" font-style="italic">Mpo</text>
<text x="279.30" y="364.19" font-size="8.4" fill="#1a1a1a" font-style="italic">Ly6a</text>
<rect x="163.80" y="363.44" width="8.85" height="7.99" fill="#7088b0"/>
<rect x="250.20" y="364.24" width="8.85" height="7.99" fill="#4868a8"/>
<rect x="172.60" y="363.44" width="8.75" height="7.99" fill="#6080b0"/>
<rect x="259.00" y="364.24" width="9.05" height="7.99" fill="#4868a8"/>
<rect x="181.30" y="363.44" width="8.65" height="7.99" fill="#d07870"/>
<rect x="268.00" y="364.24" width="8.85" height="7.99" fill="#4262a6"/>
<text x="193.00" y="370.04" font-size="8.4" fill="#1a1a1a" font-style="italic">Runx1</text>
<text x="279.30" y="370.34" font-size="8.4" fill="#1a1a1a" font-style="italic">Vwf</text>
<rect x="163.80" y="371.38" width="8.85" height="7.99" fill="#d0d0c8"/>
<rect x="250.20" y="372.18" width="8.85" height="7.99" fill="#d4d4cc"/>
<rect x="172.60" y="371.38" width="8.75" height="7.99" fill="#d0d0c8"/>
<rect x="259.00" y="372.18" width="9.05" height="7.99" fill="#d4d4cc"/>
<rect x="181.30" y="371.38" width="8.65" height="7.99" fill="#e0c8b8"/>
<rect x="268.00" y="372.18" width="8.85" height="7.99" fill="#c0c4c8"/>
<text x="193.00" y="377.98" font-size="8.4" fill="#1a1a1a" font-style="italic">Sh3bp1</text>
<text x="279.30" y="379.48" font-size="8.4" fill="#1a1a1a" font-style="italic">Mcam</text>
<rect x="163.80" y="379.32" width="8.85" height="7.99" fill="#5070a8"/>
<rect x="250.20" y="380.12" width="8.85" height="7.99" fill="#5070a8"/>
<rect x="172.60" y="379.32" width="8.75" height="7.99" fill="#3a5aa0"/>
<rect x="259.00" y="380.12" width="9.05" height="7.99" fill="#5474aa"/>
<rect x="181.30" y="379.32" width="8.65" height="7.99" fill="#e8dcc8"/>
<rect x="268.00" y="380.12" width="8.85" height="7.99" fill="#3a58a0"/>
<text x="193.00" y="385.92" font-size="8.4" fill="#1a1a1a" font-style="italic">Gfi I</text>
<text x="279.30" y="386.62" font-size="8.4" fill="#1a1a1a" font-style="italic">Mecom</text>
<rect x="163.80" y="387.26" width="8.85" height="7.99" fill="#5070a8"/>
<rect x="250.20" y="388.06" width="8.85" height="7.99" fill="#a8b0c0"/>
<rect x="172.60" y="387.26" width="8.75" height="7.99" fill="#5a78b0"/>
<rect x="259.00" y="388.06" width="9.05" height="7.99" fill="#a8b0c0"/>
<rect x="181.30" y="387.26" width="8.65" height="7.99" fill="#e8d0c0"/>
<rect x="268.00" y="388.06" width="8.85" height="7.99" fill="#8898b8"/>
<text x="193.00" y="393.86" font-size="8.4" fill="#1a1a1a" font-style="italic">Gfi I b</text>
<text x="279.30" y="393.66" font-size="8.4" fill="#1a1a1a" font-style="italic">Notch4</text>
<line x1="224.00" y1="260.60" x2="224.00" y2="392.30" stroke="#111" stroke-width="1.1"/>
<line x1="312.70" y1="262.50" x2="312.70" y2="394.60" stroke="#111" stroke-width="1.1"/>
<text x="230.60" y="315.40" font-size="8.6" fill="#1a1a1a" transform="rotate(90 230.60 315.40)">DEGs</text>
<text x="318.40" y="308.70" font-size="8.6" fill="#1a1a1a" transform="rotate(90 318.40 308.70)">Non-DEGs</text>
<rect x="163.80" y="395.20" width="8.80" height="37.10" fill="#a6c35c"/>
<text x="171.20" y="428.70" font-size="8.8" font-weight="bold" fill="#2f3d0a" textLength="30.5" lengthAdjust="spacingAndGlyphs" transform="rotate(-90 171.20 428.70)">E+/L- HE</text>
<rect x="172.90" y="395.20" width="8.40" height="37.10" fill="#5f84cf"/>
<text x="180.10" y="428.70" font-size="8.8" font-weight="bold" fill="#15286a" textLength="30.5" lengthAdjust="spacingAndGlyphs" transform="rotate(-90 180.10 428.70)">E+/L+ HE</text>
<rect x="181.70" y="395.20" width="8.20" height="37.10" fill="#c14a46"/>
<text x="188.80" y="428.70" font-size="8.8" font-weight="bold" fill="#5c0d0d" textLength="30.5" lengthAdjust="spacingAndGlyphs" transform="rotate(-90 188.80 428.70)">E-/L+ HE</text>
<rect x="250.20" y="396.40" width="8.80" height="36.60" fill="#a6c35c"/>
<text x="257.60" y="429.40" font-size="8.8" font-weight="bold" fill="#2f3d0a" textLength="30.5" lengthAdjust="spacingAndGlyphs" transform="rotate(-90 257.60 429.40)">E+/L- HE</text>
<rect x="259.30" y="396.40" width="8.70" height="36.60" fill="#5f84cf"/>
<text x="266.65" y="429.40" font-size="8.8" font-weight="bold" fill="#15286a" textLength="30.5" lengthAdjust="spacingAndGlyphs" transform="rotate(-90 266.65 429.40)">E+/L+ HE</text>
<rect x="268.40" y="396.40" width="8.40" height="36.60" fill="#c14a46"/>
<text x="275.60" y="429.40" font-size="8.8" font-weight="bold" fill="#5c0d0d" textLength="30.5" lengthAdjust="spacingAndGlyphs" transform="rotate(-90 275.60 429.40)">E-/L+ HE</text>
<text x="341.8" y="233.4" font-size="13.8" font-weight="bold" fill="#000" textLength="8.6" lengthAdjust="spacingAndGlyphs">C</text>
<defs><linearGradient id="gs" x1="0" y1="0" x2="1" y2="0"><stop offset="0" stop-color="#c03848"/><stop offset="0.18" stop-color="#cc5a68"/><stop offset="0.26" stop-color="#e8b8c4"/><stop offset="0.38" stop-color="#f4eef4"/><stop offset="0.55" stop-color="#dcdcf0"/><stop offset="0.72" stop-color="#a8a8dc"/><stop offset="0.85" stop-color="#6a6abc"/><stop offset="0.94" stop-color="#3a3a98"/><stop offset="0.941" stop-color="#fff"/><stop offset="1" stop-color="#fff"/></linearGradient><linearGradient id="gs2" x1="0" y1="0" x2="1" y2="0"><stop offset="0" stop-color="#c83c4c"/><stop offset="0.18" stop-color="#d4606c"/><stop offset="0.3" stop-color="#ecc4cc"/><stop offset="0.45" stop-color="#f2eef6"/><stop offset="0.6" stop-color="#c8c8e8"/><stop offset="0.74" stop-color="#a0a0d8"/><stop offset="0.77" stop-color="#7c7cc8"/><stop offset="0.94" stop-color="#4444a0"/><stop offset="0.941" stop-color="#fff"/><stop offset="1" stop-color="#fff"/></linearGradient></defs>
<text x="428.70" y="237.80" font-size="8.8" fill="#1a1a1a" text-anchor="middle">EC to HEC transition</text>
<text x="428.70" y="248.40" font-size="8.8" fill="#1a1a1a" text-anchor="middle">(Solaimani et al 2015)</text>
<rect x="410.10" y="302.50" width="0.60" height="17.30" fill="#bbb"/>
<rect x="423.10" y="302.50" width="0.60" height="17.30" fill="#bbb"/>
<rect x="437.70" y="302.50" width="0.70" height="17.30" fill="#999"/>
<rect x="439.80" y="302.50" width="0.60" height="17.30" fill="#bbb"/>
<rect x="443.00" y="302.50" width="0.70" height="17.30" fill="#999"/>
<rect x="445.50" y="302.50" width="0.60" height="17.30" fill="#bbb"/>
<rect x="449.90" y="302.50" width="0.80" height="17.30" fill="#666"/>
<rect x="451.60" y="302.50" width="0.70" height="17.30" fill="#888"/>
<rect x="453.30" y="302.50" width="0.70" height="17.30" fill="#888"/>
<rect x="455.30" y="302.50" width="0.80" height="17.30" fill="#444"/>
<rect x="459.70" y="302.50" width="2.60" height="17.30" fill="#333"/>
<rect x="463.40" y="302.50" width="0.80" height="17.30" fill="#222"/>
<rect x="465.40" y="302.50" width="3.80" height="17.30" fill="#111"/>
<rect x="470.00" y="302.50" width="1.20" height="17.30" fill="#555"/>
<rect x="471.60" y="302.50" width="1.00" height="17.30" fill="#333"/>
<rect x="473.00" y="302.50" width="1.20" height="17.30" fill="#666"/>
<rect x="474.60" y="302.50" width="1.00" height="17.30" fill="#444"/>
<rect x="477.60" y="302.50" width="0.80" height="17.30" fill="#333"/>
<rect x="480.10" y="302.50" width="0.70" height="17.30" fill="#888"/>
<rect x="482.40" y="302.50" width="0.60" height="17.30" fill="#bbb"/>
<rect x="374.50" y="319.80" width="111.80" height="5.00" fill="url(#gs)"/>
<path d="M375.20 254.60 L390.00 262.60 L410.00 273.40 L430.00 284.20 L445.00 292.30 L455.00 297.70 L458.90 299.20 L462.80 300.40 L466.60 300.80 L470.50 296.50 L473.60 291.00 L475.90 289.10 L478.30 282.60 L479.80 272.50 L480.60 263.00 L481.00 254.60" fill="none" stroke="#8aad4a" stroke-width="1.1" stroke-linejoin="round"/>
<rect x="374.50" y="252.50" width="111.80" height="72.30" fill="none" stroke="#111" stroke-width="1.0"/>
<line x1="374.50" y1="302.50" x2="486.30" y2="302.50" stroke="#111" stroke-width="0.9"/>
<line x1="374.50" y1="319.80" x2="486.30" y2="319.80" stroke="#111" stroke-width="0.6"/>
<line x1="372.00" y1="254.90" x2="374.50" y2="254.90" stroke="#111" stroke-width="0.8"/>
<text x="369.90" y="257.80" font-size="8.0" fill="#1a1a1a" text-anchor="end">0.0</text>
<line x1="372.00" y1="266.00" x2="374.50" y2="266.00" stroke="#111" stroke-width="0.8"/>
<text x="369.90" y="268.90" font-size="8.0" fill="#1a1a1a" text-anchor="end">0.2</text>
<line x1="372.00" y1="277.10" x2="374.50" y2="277.10" stroke="#111" stroke-width="0.8"/>
<text x="369.90" y="280.00" font-size="8.0" fill="#1a1a1a" text-anchor="end">0.4</text>
<line x1="372.00" y1="288.20" x2="374.50" y2="288.20" stroke="#111" stroke-width="0.8"/>
<text x="369.90" y="291.10" font-size="8.0" fill="#1a1a1a" text-anchor="end">0.6</text>
<line x1="372.00" y1="299.30" x2="374.50" y2="299.30" stroke="#111" stroke-width="0.8"/>
<text x="369.90" y="302.20" font-size="8.0" fill="#1a1a1a" text-anchor="end">0.8</text>
<line x1="373.00" y1="260.45" x2="374.50" y2="260.45" stroke="#111" stroke-width="0.7"/>
<line x1="373.00" y1="271.55" x2="374.50" y2="271.55" stroke="#111" stroke-width="0.7"/>
<line x1="373.00" y1="282.65" x2="374.50" y2="282.65" stroke="#111" stroke-width="0.7"/>
<line x1="373.00" y1="293.75" x2="374.50" y2="293.75" stroke="#111" stroke-width="0.7"/>
<text x="441.50" y="262.40" font-size="6.5" fill="#1a1a1a">NES= -2.08</text>
<text x="441.50" y="270.70" font-size="6.5" fill="#1a1a1a">P-value=0.00</text>
<text x="377.10" y="298.60" font-size="6.8" fill="#1a1a1a" textLength="28" lengthAdjust="spacingAndGlyphs">E<tspan font-size="4.5" dy="-2.4">−−</tspan><tspan dy="2.4">/L+ HE</tspan></text>
<text x="482.3" y="298.60" font-size="6.8" fill="#1a1a1a" text-anchor="end" textLength="27.5" lengthAdjust="spacingAndGlyphs">E+/L<tspan font-size="4.5" dy="-2.4">−−</tspan><tspan dy="2.4"> HE</tspan></text>
<text x="434.00" y="334.00" font-size="8.6" fill="#1a1a1a" text-anchor="middle" font-style="italic">Eng - 8/P/LacZ</text>
<text x="354.20" y="288.60" font-size="8.9" fill="#1a1a1a" text-anchor="middle" transform="rotate(-90 354.20 288.60)">Enrichment score</text>
<text x="430.40" y="344.30" font-size="8.8" fill="#1a1a1a" text-anchor="middle">HEC to HSC transition</text>
<text x="430.40" y="355.20" font-size="8.8" fill="#1a1a1a" text-anchor="middle">(Solaimani et al 2015)</text>
<rect x="378.50" y="406.50" width="2.00" height="16.30" fill="#222"/>
<rect x="381.00" y="406.50" width="2.00" height="16.30" fill="#777"/>
<rect x="383.40" y="406.50" width="0.80" height="16.30" fill="#222"/>
<rect x="385.00" y="406.50" width="2.00" height="16.30" fill="#888"/>
<rect x="387.50" y="406.50" width="2.50" height="16.30" fill="#aaa"/>
<rect x="391.50" y="406.50" width="1.50" height="16.30" fill="#222"/>
<rect x="393.50" y="406.50" width="1.50" height="16.30" fill="#777"/>
<rect x="396.00" y="406.50" width="1.00" height="16.30" fill="#222"/>
<rect x="397.50" y="406.50" width="1.00" height="16.30" fill="#bbb"/>
<rect x="399.00" y="406.50" width="5.00" height="16.30" fill="#1a1a1a"/>
<rect x="404.50" y="406.50" width="1.50" height="16.30" fill="#777"/>
<rect x="407.00" y="406.50" width="1.00" height="16.30" fill="#222"/>
<rect x="408.50" y="406.50" width="2.00" height="16.30" fill="#888"/>
<rect x="411.50" y="406.50" width="0.60" height="16.30" fill="#333"/>
<rect x="413.00" y="406.50" width="2.00" height="16.30" fill="#bbb"/>
<rect x="418.00" y="406.50" width="1.00" height="16.30" fill="#333"/>
<rect x="420.00" y="406.50" width="1.00" height="16.30" fill="#bbb"/>
<rect x="424.00" y="406.50" width="1.00" height="16.30" fill="#333"/>
<rect x="436.00" y="406.50" width="0.70" height="16.30" fill="#888"/>
<rect x="437.30" y="406.50" width="0.80" height="16.30" fill="#333"/>
<rect x="439.00" y="406.50" width="0.70" height="16.30" fill="#999"/>
<rect x="442.40" y="406.50" width="0.80" height="16.30" fill="#333"/>
<rect x="444.40" y="406.50" width="1.00" height="16.30" fill="#999"/>
<rect x="446.00" y="406.50" width="1.20" height="16.30" fill="#aaa"/>
<rect x="448.80" y="406.50" width="0.70" height="16.30" fill="#bbb"/>
<rect x="451.00" y="406.50" width="0.80" height="16.30" fill="#888"/>
<rect x="454.50" y="406.50" width="0.80" height="16.30" fill="#333"/>
<rect x="457.40" y="406.50" width="0.70" height="16.30" fill="#bbb"/>
<rect x="460.00" y="406.50" width="0.90" height="16.30" fill="#333"/>
<rect x="461.60" y="406.50" width="1.00" height="16.30" fill="#222"/>
<rect x="463.20" y="406.50" width="0.80" height="16.30" fill="#444"/>
<rect x="466.60" y="406.50" width="0.80" height="16.30" fill="#333"/>
<rect x="469.00" y="406.50" width="0.70" height="16.30" fill="#aaa"/>
<rect x="473.00" y="406.50" width="0.70" height="16.30" fill="#888"/>
<rect x="475.30" y="406.50" width="0.80" height="16.30" fill="#333"/>
<rect x="477.60" y="406.50" width="0.70" height="16.30" fill="#888"/>
<rect x="479.30" y="406.50" width="0.70" height="16.30" fill="#999"/>
<rect x="378.50" y="422.80" width="108.00" height="4.40" fill="url(#gs2)"/>
<path d="M378.70 389.50 L379.30 384.00 L380.00 378.00 L381.50 370.40 L383.50 366.50 L385.50 362.70 L387.50 360.90 L392.00 362.20 L400.00 365.00 L410.00 369.50 L420.00 374.50 L430.00 380.00 L440.00 386.80 L450.00 392.60 L460.00 398.20 L467.00 402.00 L470.50 403.60 L472.70 404.00 L475.00 402.30 L477.50 400.00 L479.00 398.30 L480.20 398.60 L481.20 399.30" fill="none" stroke="#8aad4a" stroke-width="1.1" stroke-linejoin="round"/>
<rect x="378.50" y="358.50" width="108.00" height="68.70" fill="none" stroke="#111" stroke-width="1.0"/>
<line x1="378.50" y1="406.50" x2="486.50" y2="406.50" stroke="#111" stroke-width="0.9"/>
<line x1="378.50" y1="422.80" x2="486.50" y2="422.80" stroke="#111" stroke-width="0.6"/>
<line x1="376.00" y1="363.80" x2="378.50" y2="363.80" stroke="#111" stroke-width="0.8"/>
<text x="373.90" y="366.70" font-size="8.0" fill="#1a1a1a" text-anchor="end">0.6</text>
<line x1="376.00" y1="375.40" x2="378.50" y2="375.40" stroke="#111" stroke-width="0.8"/>
<text x="373.90" y="378.30" font-size="8.0" fill="#1a1a1a" text-anchor="end">0.4</text>
<line x1="376.00" y1="387.00" x2="378.50" y2="387.00" stroke="#111" stroke-width="0.8"/>
<text x="373.90" y="389.90" font-size="8.0" fill="#1a1a1a" text-anchor="end">0.2</text>
<line x1="376.00" y1="398.50" x2="378.50" y2="398.50" stroke="#111" stroke-width="0.8"/>
<text x="373.90" y="401.40" font-size="8.0" fill="#1a1a1a" text-anchor="end">0.0</text>
<line x1="377.00" y1="369.60" x2="378.50" y2="369.60" stroke="#111" stroke-width="0.7"/>
<line x1="377.00" y1="381.20" x2="378.50" y2="381.20" stroke="#111" stroke-width="0.7"/>
<line x1="377.00" y1="392.75" x2="378.50" y2="392.75" stroke="#111" stroke-width="0.7"/>
<text x="437.90" y="368.40" font-size="6.5" fill="#1a1a1a">NES= 1.51</text>
<text x="437.90" y="376.70" font-size="6.5" fill="#1a1a1a">P-value=0.0046</text>
<text x="381.10" y="394.60" font-size="6.8" fill="#1a1a1a" textLength="28" lengthAdjust="spacingAndGlyphs">E<tspan font-size="4.5" dy="-2.4">−−</tspan><tspan dy="2.4">/L+ HE</tspan></text>
<text x="482.3" y="394.60" font-size="6.8" fill="#1a1a1a" text-anchor="end" textLength="27.5" lengthAdjust="spacingAndGlyphs">E+/L<tspan font-size="4.5" dy="-2.4">−−</tspan><tspan dy="2.4"> HE</tspan></text>
<text x="435.00" y="436.20" font-size="8.6" fill="#1a1a1a" text-anchor="middle" font-style="italic">Eng - 8/P/LacZ</text>
<text x="357.60" y="394.30" font-size="8.9" fill="#1a1a1a" text-anchor="middle" transform="rotate(-90 357.60 394.30)">Enrichment score</text>
<text x="6.20" y="463.70" font-size="12.8" fill="#000" font-weight="bold">D</text>
<text x="22.00" y="472.60" font-size="8.7" fill="#1a1a1a">TFs Eng-8/P; E-L+ HE</text>
<line x1="17.00" y1="477.50" x2="115.40" y2="477.50" stroke="#111" stroke-width="1.1"/>
<text x="117.40" y="472.60" font-size="8.7" fill="#1a1a1a">Surface proteins Eng-8/P; E-L+ HE</text>
<line x1="130.80" y1="477.60" x2="236.90" y2="477.60" stroke="#111" stroke-width="1.1"/>
<text x="46.35" y="489.6" font-size="8.3" fill="#1a1a1a" text-anchor="middle" textLength="22" lengthAdjust="spacingAndGlyphs">LogFC</text>
<text x="97.25" y="489.6" font-size="8.3" fill="#1a1a1a" text-anchor="middle" textLength="30.5" lengthAdjust="spacingAndGlyphs">-LogFDR</text>
<line x1="19.10" y1="505.50" x2="74.20" y2="505.50" stroke="#111" stroke-width="1.0"/>
<line x1="79.50" y1="505.50" x2="117.00" y2="505.50" stroke="#111" stroke-width="1.0"/>
<line x1="19.10" y1="502.70" x2="19.10" y2="505.50" stroke="#111" stroke-width="0.9"/>
<text x="19.10" y="501.40" font-size="7.8" fill="#1a1a1a" text-anchor="middle">-2</text>
<line x1="39.50" y1="502.70" x2="39.50" y2="505.50" stroke="#111" stroke-width="0.9"/>
<text x="39.50" y="501.40" font-size="7.8" fill="#1a1a1a" text-anchor="middle">0</text>
<line x1="74.20" y1="502.70" x2="74.20" y2="505.50" stroke="#111" stroke-width="0.9"/>
<text x="74.20" y="501.40" font-size="7.8" fill="#1a1a1a" text-anchor="middle">3</text>
<line x1="79.50" y1="502.70" x2="79.50" y2="505.50" stroke="#111" stroke-width="0.9"/>
<text x="79.50" y="501.40" font-size="7.8" fill="#1a1a1a" text-anchor="middle">0</text>
<line x1="117.00" y1="502.70" x2="117.00" y2="505.50" stroke="#111" stroke-width="0.9"/>
<text x="117.00" y="501.40" font-size="7.8" fill="#1a1a1a" text-anchor="middle">27</text>
<rect x="39.50" y="511.30" width="18.00" height="6.80" fill="#d87b70"/>
<rect x="79.50" y="511.30" width="46.80" height="6.80" fill="#bdbdbd"/>
<text x="37.20" y="517.20" font-size="6.6" fill="#1a1a1a" text-anchor="end">Runx1</text>
<rect x="39.50" y="520.65" width="14.80" height="6.80" fill="#d87b70"/>
<rect x="79.50" y="520.65" width="33.50" height="6.80" fill="#bdbdbd"/>
<text x="37.20" y="526.55" font-size="6.6" fill="#1a1a1a" text-anchor="end">Ikzf1</text>
<rect x="39.50" y="530.00" width="13.00" height="6.80" fill="#d87b70"/>
<rect x="79.50" y="530.00" width="27.50" height="6.80" fill="#bdbdbd"/>
<text x="37.20" y="535.90" font-size="6.6" fill="#1a1a1a" text-anchor="end">Ikzf2</text>
<rect x="39.50" y="539.35" width="21.30" height="6.80" fill="#d87b70"/>
<rect x="79.50" y="539.35" width="26.50" height="6.80" fill="#bdbdbd"/>
<text x="37.20" y="545.25" font-size="6.6" fill="#1a1a1a" text-anchor="end">Myb</text>
<rect x="39.50" y="548.70" width="37.30" height="6.80" fill="#d87b70"/>
<rect x="79.50" y="548.70" width="18.50" height="6.80" fill="#bdbdbd"/>
<text x="37.20" y="554.60" font-size="6.6" fill="#1a1a1a" text-anchor="end">Gata1</text>
<rect x="39.50" y="558.05" width="13.00" height="6.80" fill="#d87b70"/>
<rect x="79.50" y="558.05" width="16.80" height="6.80" fill="#bdbdbd"/>
<text x="37.20" y="563.95" font-size="6.6" fill="#1a1a1a" text-anchor="end">Nfe2</text>
<rect x="39.50" y="567.40" width="16.50" height="6.80" fill="#d87b70"/>
<rect x="79.50" y="567.40" width="15.00" height="6.80" fill="#bdbdbd"/>
<text x="37.20" y="573.30" font-size="6.6" fill="#1a1a1a" text-anchor="end">Hoxd1</text>
<rect x="39.50" y="576.75" width="14.50" height="6.80" fill="#d87b70"/>
<rect x="79.50" y="576.75" width="11.30" height="6.80" fill="#bdbdbd"/>
<text x="37.20" y="582.65" font-size="6.6" fill="#1a1a1a" text-anchor="end">Gfi1b</text>
<rect x="39.50" y="586.10" width="18.50" height="6.80" fill="#d87b70"/>
<rect x="79.50" y="586.10" width="11.30" height="6.80" fill="#bdbdbd"/>
<text x="37.20" y="592.00" font-size="6.6" fill="#1a1a1a" text-anchor="end">Nkxl-2</text>
<rect x="39.50" y="595.45" width="8.00" height="6.80" fill="#d87b70"/>
<rect x="79.50" y="595.45" width="11.70" height="6.80" fill="#bdbdbd"/>
<text x="37.20" y="601.35" font-size="6.6" fill="#1a1a1a" text-anchor="end">Lyl1</text>
<rect x="28.80" y="604.80" width="10.70" height="6.80" fill="#b8cdea"/>
<rect x="79.50" y="604.80" width="46.80" height="6.80" fill="#bdbdbd"/>
<text x="42.50" y="610.70" font-size="6.6" fill="#1a1a1a">Sox17</text>
<rect x="29.50" y="614.15" width="10.00" height="6.80" fill="#b8cdea"/>
<rect x="79.50" y="614.15" width="21.80" height="6.80" fill="#bdbdbd"/>
<text x="42.50" y="620.05" font-size="6.6" fill="#1a1a1a">Epas1</text>
<rect x="28.00" y="623.50" width="11.50" height="6.80" fill="#b8cdea"/>
<rect x="79.50" y="623.50" width="21.80" height="6.80" fill="#bdbdbd"/>
<text x="42.50" y="629.40" font-size="6.6" fill="#1a1a1a">Gata4</text>
<rect x="31.30" y="632.85" width="8.20" height="6.80" fill="#b8cdea"/>
<rect x="79.50" y="632.85" width="17.50" height="6.80" fill="#bdbdbd"/>
<text x="42.50" y="638.75" font-size="6.6" fill="#1a1a1a">Arid5b</text>
<rect x="29.50" y="642.20" width="10.00" height="6.80" fill="#b8cdea"/>
<rect x="79.50" y="642.20" width="16.80" height="6.80" fill="#bdbdbd"/>
<text x="42.50" y="648.10" font-size="6.6" fill="#1a1a1a">Id2</text>
<rect x="33.00" y="651.55" width="6.50" height="6.80" fill="#b8cdea"/>
<rect x="79.50" y="651.55" width="13.80" height="6.80" fill="#bdbdbd"/>
<text x="42.50" y="657.45" font-size="6.6" fill="#1a1a1a">Tcf4</text>
<rect x="31.30" y="660.90" width="8.20" height="6.80" fill="#b8cdea"/>
<rect x="79.50" y="660.90" width="14.30" height="6.80" fill="#bdbdbd"/>
<text x="42.50" y="666.80" font-size="6.6" fill="#1a1a1a">Atf3</text>
<rect x="31.30" y="670.25" width="8.20" height="6.80" fill="#b8cdea"/>
<rect x="79.50" y="670.25" width="14.30" height="6.80" fill="#bdbdbd"/>
<text x="42.50" y="676.15" font-size="6.6" fill="#1a1a1a">Sox6</text>
<rect x="32.50" y="679.60" width="7.00" height="6.80" fill="#b8cdea"/>
<rect x="79.50" y="679.60" width="14.30" height="6.80" fill="#bdbdbd"/>
<text x="42.50" y="685.50" font-size="6.6" fill="#1a1a1a">Klf4</text>
<rect x="31.80" y="688.95" width="7.70" height="6.80" fill="#b8cdea"/>
<rect x="79.50" y="688.95" width="12.50" height="6.80" fill="#bdbdbd"/>
<text x="42.50" y="694.85" font-size="6.6" fill="#1a1a1a">Tfec</text>
<line x1="39.50" y1="505.50" x2="39.50" y2="700.00" stroke="#111" stroke-width="1.0"/>
<line x1="79.50" y1="505.50" x2="79.50" y2="700.00" stroke="#111" stroke-width="1.0"/>
<text x="162.15" y="489.6" font-size="8.3" fill="#1a1a1a" text-anchor="middle" textLength="22" lengthAdjust="spacingAndGlyphs">LogFC</text>
<text x="210.35" y="489.6" font-size="8.3" fill="#1a1a1a" text-anchor="middle" textLength="30.5" lengthAdjust="spacingAndGlyphs">-LogFDR</text>
<line x1="138.00" y1="505.50" x2="186.90" y2="505.50" stroke="#111" stroke-width="1.0"/>
<line x1="192.50" y1="505.50" x2="230.20" y2="505.50" stroke="#111" stroke-width="1.0"/>
<line x1="138.00" y1="502.70" x2="138.00" y2="505.50" stroke="#111" stroke-width="0.9"/>
<text x="138.00" y="501.40" font-size="7.8" fill="#1a1a1a" text-anchor="middle">-3</text>
<line x1="161.50" y1="502.70" x2="161.50" y2="505.50" stroke="#111" stroke-width="0.9"/>
<text x="161.50" y="501.40" font-size="7.8" fill="#1a1a1a" text-anchor="middle">0</text>
<line x1="186.90" y1="502.70" x2="186.90" y2="505.50" stroke="#111" stroke-width="0.9"/>
<text x="186.90" y="501.40" font-size="7.8" fill="#1a1a1a" text-anchor="middle">3</text>
<line x1="192.50" y1="502.70" x2="192.50" y2="505.50" stroke="#111" stroke-width="0.9"/>
<text x="192.50" y="501.40" font-size="7.8" fill="#1a1a1a" text-anchor="middle">0</text>
<line x1="230.20" y1="502.70" x2="230.20" y2="505.50" stroke="#111" stroke-width="0.9"/>
<text x="230.20" y="501.40" font-size="7.8" fill="#1a1a1a" text-anchor="middle">44</text>
<rect x="161.50" y="511.30" width="10.50" height="6.80" fill="#d87b70"/>
<rect x="192.50" y="511.30" width="27.50" height="6.80" fill="#bdbdbd"/>
<text x="158.80" y="517.20" font-size="6.6" fill="#1a1a1a" text-anchor="end">Lgr5</text>
<rect x="161.50" y="520.65" width="8.50" height="6.80" fill="#d87b70"/>
<rect x="192.50" y="520.65" width="20.50" height="6.80" fill="#bdbdbd"/>
<text x="158.80" y="526.55" font-size="6.6" fill="#1a1a1a" text-anchor="end">Slc7a8</text>
<rect x="161.50" y="530.00" width="7.80" height="6.80" fill="#d87b70"/>
<rect x="192.50" y="530.00" width="16.30" height="6.80" fill="#bdbdbd"/>
<text x="158.80" y="535.90" font-size="6.6" fill="#1a1a1a" text-anchor="end">Tfrc</text>
<rect x="161.50" y="539.35" width="13.00" height="6.80" fill="#d87b70"/>
<rect x="192.50" y="539.35" width="15.80" height="6.80" fill="#bdbdbd"/>
<text x="158.80" y="545.25" font-size="6.6" fill="#1a1a1a" text-anchor="end">Unc5c</text>
<rect x="161.50" y="548.70" width="23.50" height="6.80" fill="#d87b70"/>
<rect x="192.50" y="548.70" width="11.30" height="6.80" fill="#bdbdbd"/>
<text x="158.80" y="554.60" font-size="6.6" fill="#1a1a1a" text-anchor="end">Pard6b</text>
<rect x="161.50" y="558.05" width="8.00" height="6.80" fill="#d87b70"/>
<rect x="192.50" y="558.05" width="10.00" height="6.80" fill="#bdbdbd"/>
<text x="158.80" y="563.95" font-size="6.6" fill="#1a1a1a" text-anchor="end">Ptprj</text>
<rect x="161.50" y="567.40" width="9.30" height="6.80" fill="#d87b70"/>
<rect x="192.50" y="567.40" width="9.00" height="6.80" fill="#bdbdbd"/>
<text x="158.80" y="573.30" font-size="6.6" fill="#1a1a1a" text-anchor="end">Gpc3</text>
<rect x="161.50" y="576.75" width="8.00" height="6.80" fill="#d87b70"/>
<rect x="192.50" y="576.75" width="6.50" height="6.80" fill="#bdbdbd"/>
<text x="158.80" y="582.65" font-size="6.6" fill="#1a1a1a" text-anchor="end">Ank3</text>
<rect x="161.50" y="586.10" width="10.50" height="6.80" fill="#d87b70"/>
<rect x="192.50" y="586.10" width="6.50" height="6.80" fill="#bdbdbd"/>
<text x="158.80" y="592.00" font-size="6.6" fill="#1a1a1a" text-anchor="end">Ptpre</text>
<rect x="161.50" y="595.45" width="4.30" height="6.80" fill="#d87b70"/>
<rect x="192.50" y="595.45" width="6.50" height="6.80" fill="#bdbdbd"/>
<text x="158.80" y="601.35" font-size="6.6" fill="#1a1a1a" text-anchor="end">Itgb3</text>
<rect x="154.50" y="604.80" width="7.00" height="6.80" fill="#b8cdea"/>
<rect x="192.50" y="604.80" width="27.50" height="6.80" fill="#bdbdbd"/>
<text x="163.30" y="610.70" font-size="6.6" fill="#1a1a1a">Pdlim3</text>
<rect x="154.50" y="614.15" width="7.00" height="6.80" fill="#b8cdea"/>
<rect x="192.50" y="614.15" width="13.00" height="6.80" fill="#bdbdbd"/>
<text x="163.30" y="620.05" font-size="6.6" fill="#1a1a1a">Gap43</text>
<rect x="153.80" y="623.50" width="7.70" height="6.80" fill="#b8cdea"/>
<rect x="192.50" y="623.50" width="13.00" height="6.80" fill="#bdbdbd"/>
<text x="163.30" y="629.40" font-size="6.6" fill="#1a1a1a">Eng</text>
<rect x="155.80" y="632.85" width="5.70" height="6.80" fill="#b8cdea"/>
<rect x="192.50" y="632.85" width="10.00" height="6.80" fill="#bdbdbd"/>
<text x="163.30" y="638.75" font-size="6.6" fill="#1a1a1a">Robo4</text>
<rect x="154.50" y="642.20" width="7.00" height="6.80" fill="#b8cdea"/>
<rect x="192.50" y="642.20" width="10.00" height="6.80" fill="#bdbdbd"/>
<text x="163.30" y="648.10" font-size="6.6" fill="#1a1a1a">Ptprm</text>
<rect x="156.30" y="651.55" width="5.20" height="6.80" fill="#b8cdea"/>
<rect x="192.50" y="651.55" width="8.30" height="6.80" fill="#bdbdbd"/>
<text x="163.30" y="657.45" font-size="6.6" fill="#1a1a1a">Clec1a</text>
<rect x="155.80" y="660.90" width="5.70" height="6.80" fill="#b8cdea"/>
<rect x="192.50" y="660.90" width="8.30" height="6.80" fill="#bdbdbd"/>
<text x="163.30" y="666.80" font-size="6.6" fill="#1a1a1a">Pcdh12</text>
<rect x="155.80" y="670.25" width="5.70" height="6.80" fill="#b8cdea"/>
<rect x="192.50" y="670.25" width="8.30" height="6.80" fill="#bdbdbd"/>
<text x="163.30" y="676.15" font-size="6.6" fill="#1a1a1a">Slc6a2</text>
<rect x="156.30" y="679.60" width="5.20" height="6.80" fill="#b8cdea"/>
<rect x="192.50" y="679.60" width="8.30" height="6.80" fill="#bdbdbd"/>
<text x="163.30" y="685.50" font-size="6.6" fill="#1a1a1a">Pdzd2</text>
<rect x="155.00" y="688.95" width="6.50" height="6.80" fill="#b8cdea"/>
<rect x="192.50" y="688.95" width="7.00" height="6.80" fill="#bdbdbd"/>
<text x="163.30" y="694.85" font-size="6.6" fill="#1a1a1a">Cav1</text>
<line x1="161.50" y1="505.50" x2="161.50" y2="701.00" stroke="#111" stroke-width="1.0"/>
<line x1="192.50" y1="505.50" x2="192.50" y2="701.00" stroke="#111" stroke-width="1.0"/>
<text x="287.40" y="475.80" font-size="8.8" fill="#1a1a1a">Biological functions: Eng-8/P: E-L+ HE</text>
<text x="355.4" y="488.8" font-size="8.5" fill="#1a1a1a" textLength="41.6" lengthAdjust="spacingAndGlyphs">-Log p value</text>
<line x1="304.20" y1="505.50" x2="414.60" y2="505.50" stroke="#111" stroke-width="1.0"/>
<line x1="374.50" y1="502.60" x2="374.50" y2="505.30" stroke="#111" stroke-width="0.9"/>
<line x1="411.00" y1="502.60" x2="411.00" y2="505.30" stroke="#111" stroke-width="0.9"/>
<text x="374.50" y="501.20" font-size="7.6" fill="#1a1a1a" text-anchor="middle">0</text>
<text x="411.00" y="501.20" font-size="7.6" fill="#1a1a1a" text-anchor="middle">14</text>
<line x1="374.50" y1="505.30" x2="374.50" y2="699.80" stroke="#111" stroke-width="1.0"/>
<rect x="375.00" y="506.80" width="29.40" height="6.10" fill="#a5162e"/>
<text x="372.70" y="512.80" font-size="6.6" fill="#1a1a1a" text-anchor="end">Organismal Survival</text>
<rect x="375.00" y="515.63" width="22.70" height="6.10" fill="#a5162e"/>
<text x="372.70" y="521.63" font-size="6.6" fill="#1a1a1a" text-anchor="end">Tissue Development</text>
<rect x="375.00" y="524.46" width="19.50" height="6.10" fill="#a5162e"/>
<text x="372.70" y="530.46" font-size="6.6" fill="#1a1a1a" text-anchor="end">Tissue Morphology</text>
<rect x="375.00" y="533.29" width="20.50" height="6.10" fill="#a5162e"/>
<text x="372.70" y="539.29" font-size="6.6" fill="#1a1a1a" text-anchor="end">Embryonic Development</text>
<rect x="375.00" y="542.12" width="16.00" height="6.10" fill="#a5162e"/>
<text x="372.70" y="548.12" font-size="6.6" fill="#1a1a1a" text-anchor="end">Cardiovascular System Development/Function</text>
<rect x="375.00" y="550.95" width="15.40" height="6.10" fill="#a5162e"/>
<text x="372.70" y="556.95" font-size="6.6" fill="#1a1a1a" text-anchor="end">Hematological System Development /Function</text>
<rect x="375.00" y="559.78" width="15.40" height="6.10" fill="#a5162e"/>
<text x="372.70" y="565.78" font-size="6.6" fill="#1a1a1a" text-anchor="end">Hematopoiesis</text>
<rect x="375.00" y="568.61" width="13.80" height="6.10" fill="#a5162e"/>
<text x="372.70" y="574.61" font-size="6.6" fill="#1a1a1a" text-anchor="end">Organismal Development</text>
<rect x="375.00" y="577.44" width="13.80" height="6.10" fill="#a5162e"/>
<text x="372.70" y="583.44" font-size="6.6" fill="#1a1a1a" text-anchor="end">Connective Tissue Development and Function</text>
<rect x="375.00" y="586.27" width="14.40" height="6.10" fill="#a5162e"/>
<text x="372.70" y="592.27" font-size="6.6" fill="#1a1a1a" text-anchor="end">Lymphoid Tissue Structure and Development</text>
<text x="392.40" y="555.95" font-size="6.0" fill="#1a1a1a">*</text>
<text x="392.40" y="564.78" font-size="6.0" fill="#1a1a1a">*</text>
<text x="416.60" y="531.30" font-size="6.7" fill="#1a1a1a" transform="rotate(90 416.60 531.30)">Up-regulated</text>
<rect x="303.80" y="596.20" width="70.20" height="6.00" fill="#5c5c5c"/>
<text x="378.10" y="601.60" font-size="6.6" fill="#1a1a1a">Cardiovascular System Development/Function</text>
<rect x="306.00" y="605.03" width="68.00" height="6.00" fill="#5c5c5c"/>
<text x="378.10" y="610.43" font-size="6.6" fill="#1a1a1a">Organismal Development</text>
<rect x="320.00" y="613.86" width="54.00" height="6.00" fill="#5c5c5c"/>
<text x="378.10" y="619.26" font-size="6.6" fill="#1a1a1a">Organismal Survival</text>
<rect x="327.30" y="622.69" width="46.70" height="6.00" fill="#5c5c5c"/>
<text x="378.10" y="628.09" font-size="6.6" fill="#1a1a1a">Tissue Morphology</text>
<rect x="328.10" y="631.52" width="45.90" height="6.00" fill="#5c5c5c"/>
<text x="378.10" y="636.92" font-size="6.6" fill="#1a1a1a">Immune Cell Trafficking</text>
<rect x="330.80" y="640.35" width="43.20" height="6.00" fill="#5c5c5c"/>
<text x="378.10" y="645.75" font-size="6.6" fill="#1a1a1a">Tissue Development</text>
<rect x="335.60" y="649.18" width="38.40" height="6.00" fill="#5c5c5c"/>
<text x="378.10" y="654.58" font-size="6.6" fill="#1a1a1a">Embryonic Development</text>
<rect x="334.30" y="658.01" width="39.70" height="6.00" fill="#5c5c5c"/>
<text x="378.10" y="663.41" font-size="6.6" fill="#1a1a1a">Nervous System Development and Function</text>
<rect x="340.20" y="666.84" width="33.80" height="6.00" fill="#5c5c5c"/>
<text x="378.10" y="672.24" font-size="6.6" fill="#1a1a1a">Organ Morphology</text>
<rect x="348.30" y="675.67" width="25.70" height="6.00" fill="#5c5c5c"/>
<text x="378.10" y="681.07" font-size="6.6" fill="#1a1a1a">Connective Tissue Development and Function</text>
<text x="301.60" y="662.80" font-size="6.7" fill="#1a1a1a" transform="rotate(-90 301.60 662.80)">Down-regulated</text>
<rect x="0.00" y="0.00" width="520.00" height="1.10" fill="#000"/>
<rect x="0.00" y="0.00" width="1.10" height="708.00" fill="#000"/>
<rect x="518.70" y="0.00" width="1.30" height="708.00" fill="#000"/>
<rect x="0.00" y="706.00" width="520.00" height="2.00" fill="#000"/>
</svg></body></html>
